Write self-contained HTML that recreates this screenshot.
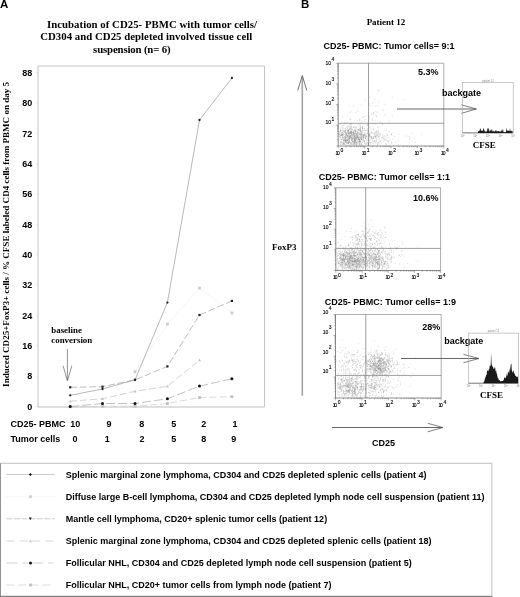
<!DOCTYPE html><html><head><meta charset="utf-8"><title>Figure</title><style>
html,body{margin:0;padding:0;background:#fff}
svg{display:block;will-change:transform}
.sb{font-family:"Liberation Serif","DejaVu Serif",serif;font-weight:bold}
.ab{font-family:"Liberation Sans","DejaVu Sans",sans-serif;font-weight:bold}
.an{font-family:"Liberation Sans","DejaVu Sans",sans-serif}
</style></head><body>
<svg width="520" height="597" viewBox="0 0 520 597">
<rect width="520" height="597" fill="#fff"/>
<text class="ab" x="0" y="8.4" font-size="11.5" fill="#000">A</text>
<g class="sb" font-size="10.8" fill="#000">
<text x="47" y="28" textLength="210" lengthAdjust="spacing">Incubation of CD25- PBMC with tumor cells/</text>
<text x="40.2" y="40.3" textLength="212" lengthAdjust="spacing">CD304 and CD25 depleted involved tissue cell</text>
<text x="93.1" y="52.5" textLength="77.5" lengthAdjust="spacing">suspension (n= 6)</text>
</g>
<path d="M38 407V66H264.5V407" fill="none" stroke="#c6c6c6" stroke-width="1"/>
<path d="M37.5 407H264.5" fill="none" stroke="#c0c0c0" stroke-width="1.2"/>
<g class="ab" font-size="9" fill="#000" text-anchor="end">
<text x="32.3" y="409.7">0</text>
<text x="32.3" y="379.3">8</text>
<text x="32.3" y="349.0">16</text>
<text x="32.3" y="318.6">24</text>
<text x="32.3" y="288.3">32</text>
<text x="32.3" y="257.9">40</text>
<text x="32.3" y="227.5">48</text>
<text x="32.3" y="197.2">56</text>
<text x="32.3" y="166.8">64</text>
<text x="32.3" y="136.5">72</text>
<text x="32.3" y="106.1">80</text>
<text x="32.3" y="75.7">88</text>
</g>
<path d="M38 406.5h-1.5M38 376.1h-1.5M38 345.8h-1.5M38 315.4h-1.5M38 285.1h-1.5M38 254.7h-1.5M38 224.3h-1.5M38 194.0h-1.5M38 163.6h-1.5M38 133.3h-1.5M38 102.9h-1.5M38 72.5h-1.5" stroke="#d4d4d4" stroke-width="0.8" fill="none"/>
<text class="sb" font-size="9.05" fill="#000" text-anchor="middle" textLength="305" lengthAdjust="spacing" transform="translate(8.7 234.4) rotate(-90)">Induced CD25+FoxP3+ cells /  % CFSE labeled CD4 cells from PBMC on day 5</text>
<g class="ab" font-size="9" fill="#000">
<text x="10.5" y="427.3">CD25- PBMC</text>
<text x="10.5" y="441.9">Tumor cells</text>
<g text-anchor="middle">
<text x="75.2" y="427.3">10</text>
<text x="109" y="427.3">9</text>
<text x="141.8" y="427.3">8</text>
<text x="173.7" y="427.3">5</text>
<text x="203.7" y="427.3">2</text>
<text x="235" y="427.3">1</text>
<text x="75" y="441.9">0</text>
<text x="107.2" y="441.9">1</text>
<text x="142" y="441.9">2</text>
<text x="173.7" y="441.9">5</text>
<text x="203.7" y="441.9">8</text>
<text x="233.8" y="441.9">9</text>
</g></g>
<g class="sb" font-size="8.9" fill="#000"><text x="51.3" y="332.8">baseline</text><text x="51.3" y="342.9">conversion</text></g>
<path d="M67.4 349V380.5M63.1 365.8L67.4 380.8L71.8 365.8" fill="none" stroke="#666" stroke-width="0.7"/>
<path d="M135 371.7L167.4 324.1L199.5 288.1L231.9 313" fill="none" stroke="#e2e2e2" stroke-width="0.8" stroke-dasharray="1 1.6"/>
<rect x="133.6" y="370.3" width="2.8" height="2.8" fill="#cdcdcd"/>
<rect x="166.0" y="322.70000000000005" width="2.8" height="2.8" fill="#cdcdcd"/>
<rect x="198.1" y="286.70000000000005" width="2.8" height="2.8" fill="#cdcdcd"/>
<rect x="230.5" y="311.6" width="2.8" height="2.8" fill="#cdcdcd"/>
<path d="M70.2 401.2L102.5 398.7L135 391.3L167.4 386.3L199.5 360.1" fill="none" stroke="#c8c8c8" stroke-width="0.8" stroke-dasharray="7 3"/>
<path d="M68.7 402.4H71.7L70.2 399.7Z" fill="#c6c6c6"/>
<path d="M101.0 399.9H104.0L102.5 397.2Z" fill="#c6c6c6"/>
<path d="M133.5 392.5H136.5L135 389.8Z" fill="#c6c6c6"/>
<path d="M165.9 387.5H168.9L167.4 384.8Z" fill="#c6c6c6"/>
<path d="M198.0 361.3H201.0L199.5 358.6Z" fill="#c6c6c6"/>
<path d="M70.2 406.8L102.5 406.2L135 406.3L167.4 403.5L199.5 397.5L231.9 396.7" fill="none" stroke="#cfcfcf" stroke-width="0.8" stroke-dasharray="7 3"/>
<rect x="68.8" y="405.40000000000003" width="2.8" height="2.8" fill="#c0c0c0"/>
<rect x="101.1" y="404.8" width="2.8" height="2.8" fill="#c0c0c0"/>
<rect x="133.6" y="404.90000000000003" width="2.8" height="2.8" fill="#c0c0c0"/>
<rect x="166.0" y="402.1" width="2.8" height="2.8" fill="#c0c0c0"/>
<rect x="198.1" y="396.1" width="2.8" height="2.8" fill="#c0c0c0"/>
<rect x="230.5" y="395.3" width="2.8" height="2.8" fill="#c0c0c0"/>
<path d="M70.2 387.3L102.5 386.7L135 379.8L167.4 366.4L199.5 315L231.9 300.9" fill="none" stroke="#a2a2a2" stroke-width="0.7" stroke-dasharray="7 2.5"/>
<rect x="69.10000000000001" y="386.2" width="2.2" height="2.2" fill="#222"/>
<rect x="101.4" y="385.59999999999997" width="2.2" height="2.2" fill="#222"/>
<rect x="133.9" y="378.7" width="2.2" height="2.2" fill="#222"/>
<rect x="166.3" y="365.29999999999995" width="2.2" height="2.2" fill="#222"/>
<rect x="198.4" y="313.9" width="2.2" height="2.2" fill="#222"/>
<rect x="230.8" y="299.79999999999995" width="2.2" height="2.2" fill="#222"/>
<path d="M70.2 406.6L102.5 403.5L135 403.5L167.4 398.8L199.5 386.1L231.9 378.8" fill="none" stroke="#a8a8a8" stroke-width="0.7" stroke-dasharray="9 3"/>
<circle cx="70.2" cy="406.6" r="1.5" fill="#111"/>
<circle cx="102.5" cy="403.5" r="1.5" fill="#111"/>
<circle cx="135" cy="403.5" r="1.5" fill="#111"/>
<circle cx="167.4" cy="398.8" r="1.5" fill="#111"/>
<circle cx="199.5" cy="386.1" r="1.5" fill="#111"/>
<circle cx="231.9" cy="378.8" r="1.5" fill="#111"/>
<path d="M70.2 395.3L102.5 389L135 379.8L167.4 302.6L199.5 120L231.9 78" fill="none" stroke="#8a8a8a" stroke-width="0.6"/>
<circle cx="70.2" cy="395.3" r="1.15" fill="#222"/>
<circle cx="102.5" cy="389" r="1.15" fill="#222"/>
<circle cx="135" cy="379.8" r="1.15" fill="#222"/>
<circle cx="167.4" cy="302.6" r="1.15" fill="#222"/>
<circle cx="199.5" cy="120" r="1.15" fill="#222"/>
<circle cx="231.9" cy="78" r="1.15" fill="#222"/>
<text class="ab" x="300.9" y="8.4" font-size="11.5" fill="#000">B</text>
<text class="sb" x="386" y="24.6" font-size="9" fill="#000" text-anchor="middle">Patient 12</text>
<text class="sb" x="284.2" y="249.6" font-size="9" fill="#000" text-anchor="middle">FoxP3</text>
<path d="M302.3 395.7V77" fill="none" stroke="#a4a4a4" stroke-width="1.6"/>
<path d="M297.7 90.5L302.3 75.5L306.8 90.5" fill="none" stroke="#555" stroke-width="0.8"/>
<path d="M332 427.5H442.5" fill="none" stroke="#606060" stroke-width="0.95"/><path d="M427.7 423.3L443 427.5L427.7 431.8" fill="none" stroke="#555" stroke-width="0.75"/>
<text class="ab" x="383.5" y="445.5" font-size="9" fill="#000" text-anchor="middle">CD25</text>
<path d="M340.4 139.2h.75M361.5 134.0h.75M339.4 136.6h.75M356.5 143.4h.75M340.4 129.5h.75M358.7 139.7h.75M366.6 142.7h.75M351.0 135.4h.75M376.4 135.3h.75M344.5 130.4h.75M352.9 137.8h.75M348.7 136.6h.75M354.6 141.0h.75M362.4 138.2h.75M344.6 138.2h.75M383.4 136.7h.75M360.0 129.3h.75M349.3 140.8h.75M351.1 139.1h.75M353.0 131.2h.75M357.4 132.3h.75M369.8 134.1h.75M358.5 137.0h.75M361.0 133.5h.75M361.5 136.3h.75M364.0 140.6h.75M353.3 132.5h.75M359.3 139.7h.75M367.6 134.8h.75M357.3 139.9h.75M354.7 138.2h.75M353.7 133.5h.75M342.4 134.7h.75M361.3 143.1h.75M359.4 141.1h.75M353.7 141.5h.75M368.8 135.1h.75M354.3 142.6h.75M360.3 130.4h.75M353.7 141.4h.75M353.2 131.9h.75M350.9 139.2h.75M362.6 141.1h.75M352.6 144.9h.75M344.8 141.6h.75M362.6 135.3h.75M354.3 140.1h.75M366.7 131.2h.75M352.0 140.8h.75M350.5 123.3h.75M361.5 131.7h.75M348.1 138.3h.75M375.6 140.6h.75M345.5 134.2h.75M358.8 145.3h.75M358.2 138.7h.75M346.2 133.9h.75M357.6 135.1h.75M359.5 137.5h.75M348.8 137.7h.75M356.1 142.0h.75M347.5 135.7h.75M365.8 136.0h.75M347.5 129.8h.75M353.6 138.2h.75M372.7 138.4h.75M344.6 122.8h.75M365.4 138.1h.75M362.6 140.3h.75M350.3 124.6h.75M350.8 128.0h.75M357.7 124.6h.75M343.4 144.1h.75M367.6 130.1h.75M360.1 131.3h.75M345.4 133.0h.75M340.7 133.1h.75M363.9 141.0h.75M371.5 136.5h.75M350.7 131.3h.75M350.8 129.4h.75M365.7 141.9h.75M364.7 138.5h.75M345.2 137.5h.75M348.4 130.6h.75M351.9 137.9h.75M347.5 145.3h.75M353.7 140.4h.75M363.6 132.2h.75M345.5 144.6h.75M355.2 142.8h.75M359.3 124.9h.75M358.8 133.1h.75M344.8 134.5h.75M359.3 142.1h.75M361.6 127.4h.75M346.4 123.2h.75M351.0 140.5h.75M344.7 138.4h.75M354.2 142.8h.75M344.2 132.2h.75M362.4 136.3h.75M354.1 137.7h.75M353.9 135.8h.75M348.8 129.7h.75M357.1 137.4h.75M350.0 137.4h.75M355.4 133.3h.75M353.9 138.4h.75M344.9 132.4h.75M342.5 130.8h.75M360.5 123.3h.75M349.5 133.5h.75M346.1 137.6h.75M362.7 137.4h.75M350.7 133.4h.75M350.8 142.3h.75M348.3 130.4h.75M340.0 130.6h.75M355.4 135.6h.75M365.9 133.2h.75M359.2 141.6h.75M343.2 142.3h.75M364.3 129.9h.75M362.0 134.8h.75M348.3 133.8h.75M348.9 126.5h.75M342.5 129.8h.75M378.0 135.0h.75M357.4 132.8h.75M360.9 140.1h.75M349.7 137.1h.75M353.3 135.0h.75M353.8 133.6h.75M355.4 139.5h.75M359.8 129.5h.75M362.4 134.7h.75M355.8 136.2h.75M354.1 144.0h.75M344.6 131.6h.75M358.8 130.8h.75M348.5 142.3h.75M363.5 126.7h.75M363.4 135.6h.75M346.3 135.3h.75M341.0 135.5h.75M350.2 136.2h.75M363.2 135.7h.75M341.8 134.4h.75M350.7 135.0h.75M342.5 135.6h.75M372.7 133.5h.75M350.7 143.5h.75M359.1 141.4h.75M360.2 125.6h.75M343.8 137.7h.75M356.7 144.5h.75M356.5 135.6h.75M352.4 135.8h.75M354.3 140.9h.75M348.8 132.3h.75M343.9 143.4h.75M364.2 142.8h.75M360.1 141.8h.75M352.0 140.8h.75M342.0 135.8h.75M345.0 141.2h.75M346.5 136.4h.75M355.8 144.9h.75M344.5 131.6h.75M359.8 130.6h.75M356.3 133.7h.75M351.0 126.4h.75M358.8 134.1h.75M355.9 135.0h.75M351.7 139.6h.75M356.9 131.7h.75M353.2 134.1h.75M340.2 142.1h.75M358.3 137.4h.75M343.4 125.4h.75M356.6 136.4h.75M353.4 139.1h.75M354.1 138.0h.75M341.2 134.8h.75M347.1 135.6h.75M354.6 140.6h.75M367.5 122.1h.75M355.8 135.8h.75M373.6 142.4h.75M347.1 142.8h.75M342.0 136.4h.75M350.8 136.4h.75M346.5 126.3h.75M356.4 142.8h.75M351.4 131.1h.75M353.9 140.3h.75M350.3 136.9h.75M365.4 130.5h.75M346.7 125.9h.75M345.4 132.7h.75M342.9 133.0h.75M369.1 135.9h.75M351.4 126.9h.75M355.8 131.6h.75M367.6 129.8h.75M346.5 127.7h.75M352.9 131.1h.75M351.4 134.8h.75M346.2 142.5h.75M360.9 137.4h.75M343.4 130.8h.75M347.7 132.4h.75M345.4 130.6h.75M342.8 135.8h.75M365.6 137.0h.75M347.1 127.6h.75M354.0 136.8h.75M340.3 130.7h.75M351.6 142.9h.75M358.0 138.2h.75M348.9 138.9h.75M341.2 134.9h.75M364.0 135.5h.75M365.5 136.7h.75M353.4 134.9h.75M338.9 131.4h.75M373.0 140.7h.75M357.8 142.5h.75M357.4 142.9h.75M349.5 135.7h.75M361.3 135.0h.75M339.4 135.7h.75M346.8 140.6h.75M345.2 130.8h.75M351.5 137.9h.75M352.1 138.7h.75M360.8 145.1h.75M352.0 135.1h.75M374.8 136.0h.75M370.5 142.6h.75M342.2 139.8h.75M359.0 136.3h.75M350.2 130.6h.75M369.3 135.6h.75M348.3 135.3h.75M344.6 132.5h.75M352.9 138.8h.75M347.2 136.5h.75M344.9 138.2h.75M343.4 134.0h.75M354.0 130.0h.75M375.5 136.8h.75M351.3 132.7h.75M367.2 145.0h.75M354.8 129.1h.75M347.2 140.6h.75M347.1 130.1h.75M340.7 132.5h.75M352.1 133.2h.75M368.8 131.0h.75M355.3 137.5h.75M350.7 143.1h.75M348.8 135.1h.75M348.4 136.4h.75M364.2 141.5h.75M339.3 134.4h.75M344.4 141.7h.75M354.1 142.2h.75M351.4 125.9h.75M356.3 138.3h.75M356.8 129.4h.75M352.8 133.0h.75M345.5 139.1h.75M355.3 131.8h.75M346.5 143.5h.75M351.5 123.9h.75M343.8 139.4h.75M367.9 143.8h.75M355.5 138.1h.75M341.9 134.4h.75M348.8 132.5h.75M352.6 134.7h.75M355.2 145.3h.75M359.0 139.4h.75M349.7 128.2h.75M350.9 140.2h.75M342.4 144.3h.75M348.8 139.2h.75M348.9 129.7h.75M371.6 130.3h.75M360.7 133.8h.75M354.7 132.3h.75M348.0 142.3h.75M370.5 132.1h.75M352.1 142.5h.75M346.0 141.1h.75M344.5 140.5h.75M356.1 144.0h.75M355.5 130.1h.75M358.3 130.6h.75M357.7 133.8h.75M363.3 138.0h.75M340.2 134.9h.75M365.5 135.2h.75M353.2 135.0h.75M355.4 138.2h.75M350.3 124.6h.75M363.6 141.2h.75M361.7 144.5h.75M347.8 133.5h.75M345.2 140.2h.75M365.9 135.3h.75M340.2 137.3h.75M349.3 128.0h.75M360.4 134.0h.75M358.5 129.4h.75M362.4 128.6h.75M362.0 126.5h.75M365.1 134.8h.75M355.2 131.3h.75M347.3 138.6h.75M350.4 119.2h.75M347.9 139.5h.75M354.8 142.9h.75M359.6 138.8h.75M362.3 142.5h.75M353.0 133.4h.75M361.7 139.5h.75M356.4 137.6h.75M354.7 140.7h.75M346.4 134.7h.75M355.1 141.3h.75M347.5 143.8h.75M356.4 131.0h.75M359.5 134.3h.75M345.3 137.4h.75M373.9 141.3h.75M355.0 131.6h.75M340.7 135.8h.75M348.2 133.4h.75M362.7 137.4h.75M340.3 144.5h.75M349.0 129.3h.75M355.1 139.8h.75M348.8 141.0h.75M359.8 131.9h.75M350.8 144.1h.75M361.5 145.1h.75M369.6 137.1h.75M362.0 128.1h.75M358.5 139.3h.75M351.1 134.4h.75M341.4 137.8h.75M364.1 134.9h.75M357.0 133.1h.75M354.4 131.2h.75M355.6 135.7h.75M355.0 133.5h.75M340.8 135.1h.75M348.9 141.6h.75M359.2 139.3h.75M342.8 143.8h.75M359.5 140.6h.75M358.6 129.6h.75M361.2 137.4h.75M350.3 132.9h.75M342.3 134.5h.75M381.3 138.2h.75M354.0 133.2h.75M346.1 133.8h.75M343.6 142.1h.75M349.4 142.0h.75M341.0 142.4h.75M351.7 140.9h.75M351.0 131.9h.75M363.5 134.5h.75M350.6 131.9h.75M353.9 134.7h.75M354.7 139.0h.75M345.5 128.8h.75M356.1 142.3h.75M358.6 130.4h.75M357.7 139.2h.75M354.7 139.5h.75M348.9 138.2h.75M360.8 134.1h.75M353.9 126.3h.75M345.6 140.4h.75M350.6 137.5h.75M340.0 142.3h.75M368.7 135.8h.75M345.0 130.3h.75M360.5 137.6h.75M344.5 144.0h.75M359.3 140.5h.75M357.9 129.9h.75M360.8 145.3h.75M361.8 132.8h.75M345.3 142.5h.75M361.4 144.1h.75M363.4 136.4h.75M348.1 126.2h.75M347.6 134.2h.75M358.2 139.2h.75M339.0 132.9h.75M345.2 142.0h.75M340.3 135.0h.75M345.1 135.3h.75M376.9 127.3h.75M357.3 129.8h.75M364.7 144.5h.75M352.7 144.6h.75M355.0 133.8h.75M348.4 136.3h.75M357.9 137.7h.75M374.4 135.9h.75M347.6 132.8h.75M344.6 128.6h.75M342.6 142.3h.75M352.6 136.0h.75M355.3 143.2h.75M357.8 141.5h.75M346.7 135.5h.75M344.6 136.4h.75M344.2 134.8h.75M350.3 135.7h.75M349.5 134.1h.75M364.4 135.0h.75M342.4 138.1h.75M341.7 130.8h.75M352.8 127.3h.75M361.8 127.3h.75M343.5 140.3h.75M340.6 135.9h.75M350.6 138.8h.75M348.9 124.7h.75M350.6 129.2h.75M352.1 132.1h.75M349.0 135.8h.75M359.3 141.4h.75M342.5 136.9h.75M365.9 139.9h.75M345.1 136.3h.75M348.7 142.5h.75M352.3 139.2h.75M373.0 129.0h.75M342.4 127.0h.75M365.7 143.0h.75M360.4 142.1h.75M352.3 136.9h.75M352.3 141.9h.75M350.5 138.9h.75M365.8 130.5h.75M344.9 140.3h.75M349.5 136.1h.75M371.9 139.4h.75M348.0 143.4h.75M375.9 130.6h.75M345.6 137.7h.75M357.0 134.7h.75M356.7 132.4h.75M346.3 137.6h.75M374.7 123.9h.75M356.0 144.8h.75M356.3 137.8h.75M350.8 132.0h.75M367.5 130.1h.75M350.8 134.0h.75M344.5 124.1h.75M348.4 137.8h.75M353.4 141.9h.75M350.5 133.3h.75M354.9 140.9h.75M343.4 128.2h.75M342.3 143.1h.75M361.5 131.9h.75M353.1 141.9h.75M364.6 133.2h.75M349.7 145.2h.75M341.2 139.6h.75M349.2 136.7h.75M345.7 134.2h.75M358.6 139.5h.75M352.3 132.6h.75M349.8 144.2h.75M354.5 136.9h.75M346.0 137.0h.75M339.2 134.1h.75M343.2 143.6h.75M354.4 130.2h.75M347.4 130.6h.75M357.6 135.9h.75M353.1 133.6h.75M346.6 134.3h.75M355.8 127.0h.75M353.0 143.7h.75M354.2 144.5h.75M349.5 137.0h.75M339.7 131.7h.75M354.3 140.0h.75M363.1 137.8h.75M342.6 139.5h.75M370.6 142.6h.75M341.2 134.0h.75M353.8 132.9h.75M357.0 141.0h.75M360.0 138.3h.75M343.6 132.1h.75M350.8 144.7h.75M367.0 142.7h.75M355.4 140.9h.75M359.8 144.5h.75M360.1 128.1h.75M361.1 139.2h.75M347.6 140.0h.75M354.7 136.7h.75M357.3 136.7h.75M358.8 138.0h.75M356.0 135.0h.75M345.7 140.0h.75M348.6 138.1h.75M382.9 141.1h.75M353.3 127.6h.75M352.9 141.4h.75M345.3 135.6h.75M346.3 141.0h.75M365.0 136.1h.75M361.4 138.5h.75M350.1 135.4h.75M343.9 144.4h.75M360.4 131.2h.75M360.0 132.8h.75M339.8 143.9h.75M353.9 142.2h.75M356.9 143.7h.75M355.3 140.4h.75M354.4 143.4h.75M348.3 142.9h.75M366.3 136.6h.75M356.2 134.0h.75M349.3 138.5h.75M348.8 131.9h.75M351.7 138.1h.75M355.1 141.1h.75M350.4 132.5h.75M348.5 139.6h.75M360.3 134.9h.75M353.5 127.7h.75M353.6 136.4h.75M347.9 142.1h.75M369.0 143.0h.75M348.8 136.8h.75M346.5 139.6h.75M357.3 137.8h.75M350.0 136.2h.75M348.2 142.6h.75M347.1 136.1h.75M350.0 132.7h.75M349.8 128.5h.75M355.9 140.1h.75M344.2 140.2h.75M356.5 133.9h.75M349.7 142.1h.75M352.6 138.6h.75M365.2 138.3h.75M359.9 136.3h.75M341.8 125.6h.75M340.2 124.5h.75M356.7 133.9h.75M349.2 135.1h.75M343.5 139.5h.75M360.7 139.1h.75M346.7 143.0h.75M351.0 140.3h.75M343.2 140.8h.75M359.0 144.4h.75M352.3 139.6h.75M346.6 142.1h.75M359.3 143.2h.75M348.4 130.0h.75M351.4 135.8h.75M345.0 140.5h.75M360.9 139.3h.75M362.5 139.3h.75M342.8 133.6h.75M348.7 140.9h.75M360.7 137.8h.75M361.5 132.3h.75M356.2 143.0h.75M343.9 142.8h.75M367.3 133.5h.75M342.8 131.2h.75M343.7 140.2h.75M358.8 133.1h.75M354.2 136.1h.75M359.4 142.2h.75M348.8 142.1h.75M357.4 136.5h.75M354.4 140.9h.75M349.0 133.2h.75M363.9 137.0h.75M346.5 139.7h.75M339.3 134.6h.75M360.4 136.0h.75M347.1 128.7h.75M369.3 134.6h.75M359.1 143.8h.75M339.8 137.4h.75M346.7 140.5h.75M351.9 129.8h.75M352.6 141.4h.75M349.3 140.2h.75M347.1 136.7h.75M355.3 137.8h.75M363.9 142.4h.75M359.9 141.1h.75M353.5 130.4h.75M354.2 135.6h.75M351.7 143.9h.75M354.7 131.5h.75M350.5 132.7h.75M350.2 132.0h.75M361.8 127.9h.75M343.0 134.5h.75M348.5 129.2h.75M360.3 127.9h.75M358.5 141.0h.75M348.7 133.3h.75M352.6 137.9h.75M357.0 136.4h.75M348.2 131.4h.75M345.5 132.7h.75M378.0 129.9h.75M366.3 139.8h.75M354.1 138.2h.75M356.8 136.9h.75M350.9 138.2h.75M341.5 135.2h.75M346.3 140.6h.75M357.7 126.5h.75M350.0 142.7h.75M340.1 130.3h.75M361.4 136.3h.75M347.9 130.2h.75M353.7 133.9h.75M354.1 139.5h.75M358.6 135.2h.75M347.2 137.2h.75M351.2 138.0h.75M347.2 135.7h.75M346.6 133.7h.75M353.5 143.6h.75M347.1 140.4h.75M355.3 137.7h.75M358.4 133.9h.75M357.3 138.7h.75M342.2 137.6h.75M355.3 131.5h.75M363.2 139.6h.75M344.7 130.2h.75M372.1 123.0h.75M351.1 133.4h.75M357.7 137.6h.75M354.7 138.6h.75M341.9 144.5h.75M347.8 143.5h.75M358.5 137.3h.75M353.4 136.8h.75M356.1 127.9h.75M359.6 128.2h.75M356.4 136.8h.75M361.2 135.2h.75M350.0 132.8h.75M353.7 136.3h.75M346.0 135.1h.75M345.0 140.6h.75M342.4 128.2h.75M343.1 143.2h.75M347.3 140.7h.75M358.9 134.1h.75M359.1 139.9h.75M351.7 133.0h.75M351.5 129.7h.75M349.5 133.7h.75M356.2 139.0h.75M346.1 142.0h.75M363.2 137.4h.75M345.1 139.9h.75M353.8 142.8h.75M350.4 133.5h.75M359.9 135.3h.75M355.6 142.0h.75M357.4 136.8h.75M345.9 132.8h.75M347.9 133.9h.75M360.3 130.6h.75M339.7 136.8h.75M365.6 144.3h.75M348.1 131.1h.75M347.0 131.8h.75M346.9 139.8h.75M342.0 132.5h.75M349.6 136.9h.75M344.8 132.5h.75M341.4 132.7h.75M357.0 135.6h.75M351.4 132.0h.75M349.6 119.6h.75M345.1 137.2h.75M359.4 129.9h.75M368.5 132.8h.75M355.4 130.4h.75M355.5 136.9h.75M362.3 130.3h.75M340.7 139.0h.75M356.2 134.1h.75M349.5 145.2h.75M362.8 140.3h.75M354.6 130.4h.75M362.0 129.1h.75M353.6 133.8h.75M349.1 139.0h.75M360.5 138.2h.75M363.9 128.7h.75M356.5 139.5h.75M377.4 144.5h.75M355.6 144.9h.75M362.9 130.5h.75M356.6 145.1h.75M350.5 137.4h.75M347.6 141.3h.75M346.7 133.6h.75M340.3 131.6h.75M354.1 139.8h.75M348.3 130.9h.75M355.2 139.1h.75M364.2 134.1h.75M348.1 140.0h.75M366.6 136.7h.75M351.2 131.5h.75M348.4 142.5h.75M360.1 143.5h.75M343.2 140.5h.75M343.6 144.4h.75M353.2 144.6h.75M347.3 131.3h.75M360.6 134.7h.75M351.5 129.1h.75M348.7 137.7h.75M345.3 139.3h.75M348.7 133.2h.75M347.7 138.6h.75M357.7 134.3h.75M344.4 139.5h.75M359.9 126.8h.75M341.9 133.1h.75M368.4 144.2h.75M359.7 139.9h.75M341.3 143.6h.75M347.8 132.3h.75M370.6 128.5h.75M365.3 138.2h.75M343.2 138.1h.75M343.9 138.1h.75M345.8 130.0h.75M377.6 134.1h.75M361.5 136.7h.75M358.5 129.6h.75M342.0 117.8h.75M361.7 139.6h.75M340.7 141.9h.75M354.3 142.4h.75M357.9 141.5h.75M351.8 134.6h.75M358.9 144.3h.75M340.8 130.3h.75M350.0 127.0h.75M359.8 141.5h.75M370.7 138.1h.75M371.0 132.8h.75M360.7 137.8h.75M340.6 135.4h.75M364.8 143.6h.75M348.4 143.5h.75M360.7 142.3h.75M354.8 138.8h.75M344.1 136.6h.75M353.2 132.7h.75M349.3 138.0h.75M354.1 143.2h.75M342.2 134.7h.75M354.6 134.8h.75M355.2 134.3h.75M363.4 135.7h.75M341.1 141.4h.75M368.1 125.7h.75M350.8 137.4h.75M350.5 127.9h.75M358.5 142.9h.75M356.5 137.5h.75M340.5 128.2h.75M361.4 138.7h.75M358.5 139.1h.75M368.3 145.4h.75M346.8 142.9h.75M340.8 127.0h.75M363.6 134.5h.75M345.7 140.0h.75M351.5 132.5h.75M345.2 141.5h.75M343.1 137.8h.75M369.1 140.3h.75M388.7 140.9h.75M383.9 140.3h.75M369.2 136.5h.75M376.5 140.3h.75M371.8 141.1h.75M371.0 138.4h.75M376.0 132.2h.75M383.1 138.3h.75M376.8 137.9h.75M361.2 131.0h.75M369.7 143.0h.75M372.0 141.1h.75M368.8 133.8h.75M372.7 143.4h.75M364.3 137.1h.75M378.9 138.7h.75M375.9 142.0h.75M378.1 133.0h.75M380.5 134.1h.75M373.6 145.4h.75M393.3 145.4h.75M379.1 134.1h.75M378.4 131.0h.75M387.1 141.0h.75M385.4 140.1h.75M360.8 134.3h.75M375.0 137.2h.75M386.7 134.6h.75M375.4 137.7h.75M375.4 132.8h.75M367.4 125.0h.75M378.4 137.0h.75M377.5 132.7h.75M376.1 133.1h.75M368.9 139.7h.75M380.5 141.0h.75M375.7 136.1h.75M385.9 144.3h.75M371.6 132.6h.75M378.7 139.6h.75M361.3 133.8h.75M377.8 143.0h.75M363.0 135.8h.75M386.2 145.1h.75M374.3 138.2h.75M369.8 140.0h.75M368.6 127.8h.75M365.3 138.3h.75M366.7 143.6h.75M385.1 143.1h.75M380.7 143.7h.75M377.9 142.4h.75M379.3 142.0h.75M368.9 134.7h.75M369.0 142.2h.75M379.6 134.1h.75M369.1 135.1h.75M382.2 137.5h.75M374.3 134.6h.75M371.2 136.3h.75M388.0 141.7h.75M368.0 143.5h.75M367.1 140.8h.75M358.2 133.0h.75M382.5 135.0h.75M370.9 138.3h.75M376.1 135.7h.75M386.6 139.7h.75M367.9 135.4h.75M374.0 140.5h.75M387.3 135.4h.75M377.1 135.9h.75M377.0 134.6h.75M378.7 143.9h.75M373.3 136.4h.75M376.9 131.4h.75M388.8 131.3h.75M373.5 133.6h.75M386.6 135.6h.75M375.2 134.1h.75M376.0 139.0h.75M370.8 137.1h.75M374.6 141.7h.75M381.5 142.2h.75M375.2 142.1h.75M374.6 143.9h.75M378.9 135.9h.75M384.7 130.4h.75M369.2 134.0h.75M375.1 131.8h.75M367.6 128.5h.75M376.9 134.2h.75M391.5 141.9h.75M368.0 144.7h.75M376.8 143.5h.75M368.2 143.9h.75M383.8 135.9h.75M370.1 136.1h.75M374.5 136.4h.75M378.6 136.7h.75M372.8 137.0h.75M382.0 137.7h.75M377.7 136.7h.75M374.7 136.4h.75M384.9 139.2h.75M386.6 137.2h.75M383.5 131.1h.75M373.2 137.7h.75M371.6 137.5h.75M369.5 137.2h.75M371.4 138.0h.75M374.0 133.0h.75M373.2 138.2h.75M367.1 138.5h.75M384.9 136.9h.75M379.9 141.2h.75M370.4 144.7h.75M393.7 132.9h.75M391.2 134.5h.75M386.3 128.9h.75M384.1 138.7h.75M367.0 133.9h.75M353.3 105.9h.75M373.4 112.4h.75M374.7 114.9h.75M391.9 97.4h.75M371.5 114.3h.75M378.3 101.9h.75M349.7 112.5h.75M369.2 97.7h.75M373.3 114.0h.75M378.4 90.4h.75M375.2 106.0h.75M361.4 121.1h.75M391.9 115.4h.75M366.6 125.9h.75M355.5 112.7h.75M361.0 105.2h.75M370.8 132.5h.75M371.6 118.6h.75M367.7 124.3h.75M370.6 106.1h.75M369.5 127.1h.75M366.9 124.9h.75M367.1 132.4h.75M372.1 120.0h.75M364.0 121.6h.75M364.9 100.7h.75M372.4 103.1h.75M388.9 121.2h.75M368.3 120.3h.75M359.0 120.1h.75M404.2 99.4h.75M362.3 117.2h.75M374.0 98.8h.75M355.0 127.5h.75M359.6 119.1h.75M348.8 105.8h.75M342.4 116.5h.75M384.4 114.9h.75M364.2 116.3h.75M374.7 111.4h.75M375.9 131.8h.75M399.4 108.9h.75M350.3 131.4h.75M381.9 125.1h.75M376.6 112.0h.75M381.9 124.2h.75M384.7 104.2h.75M382.6 110.9h.75M363.1 117.3h.75M363.2 135.1h.75M376.1 116.5h.75M365.4 116.3h.75M364.9 119.4h.75M380.3 121.7h.75M350.4 111.1h.75M369.3 103.0h.75M373.5 112.8h.75M368.9 117.5h.75M359.4 128.2h.75M382.7 109.1h.75M374.7 120.8h.75M357.4 110.9h.75M378.0 90.7h.75M349.6 117.1h.75M376.9 105.7h.75M380.2 134.1h.75M371.1 113.7h.75M369.1 104.9h.75M375.9 115.7h.75M378.6 127.0h.75M368.7 115.7h.75M372.7 129.8h.75M347.6 114.1h.75M392.6 138.7h.75M410.2 138.4h.75M409.0 139.0h.75M391.5 134.7h.75M383.5 139.2h.75M395.4 142.3h.75M411.8 133.6h.75M387.0 141.1h.75M389.5 139.1h.75M407.5 136.1h.75M421.6 134.2h.75M405.3 136.0h.75M365.4 137.2h.75M398.2 141.0h.75M398.5 134.4h.75M393.9 136.5h.75M409.3 136.7h.75M415.0 142.4h.75M391.2 143.2h.75M372.9 138.2h.75M388.3 137.6h.75M414.1 138.1h.75M398.1 144.5h.75M391.0 133.9h.75M411.9 141.1h.75" stroke="#8a8a8a" stroke-width="0.75" fill="none" opacity="0.55"/>
<path d="M338.2 63.2H443.8V146" fill="none" stroke="#888" stroke-width="0.7"/>
<path d="M338.2 63.2V146H443.8" fill="none" stroke="#666" stroke-width="0.75"/>
<path d="M368.5 63.2V146M338.2 123.3H443.8" fill="none" stroke="#777" stroke-width="0.7"/>
<path d="M338.2 146v2.4M338.2 146.0h-2M346.1 146v1.2M338.2 139.8h-1.1M350.8 146v1.2M338.2 136.1h-1.1M354.1 146v1.2M338.2 133.5h-1.1M356.7 146v1.2M338.2 131.5h-1.1M358.7 146v1.2M338.2 129.9h-1.1M360.5 146v1.2M338.2 128.5h-1.1M362.0 146v1.2M338.2 127.3h-1.1M363.4 146v1.2M338.2 126.2h-1.1M364.6 146v2.4M338.2 125.3h-2M372.5 146v1.2M338.2 119.1h-1.1M377.2 146v1.2M338.2 115.4h-1.1M380.5 146v1.2M338.2 112.8h-1.1M383.1 146v1.2M338.2 110.8h-1.1M385.1 146v1.2M338.2 109.2h-1.1M386.9 146v1.2M338.2 107.8h-1.1M388.4 146v1.2M338.2 106.6h-1.1M389.8 146v1.2M338.2 105.5h-1.1M391.0 146v2.4M338.2 104.6h-2M398.9 146v1.2M338.2 98.4h-1.1M403.6 146v1.2M338.2 94.7h-1.1M406.9 146v1.2M338.2 92.1h-1.1M409.5 146v1.2M338.2 90.1h-1.1M411.5 146v1.2M338.2 88.5h-1.1M413.3 146v1.2M338.2 87.1h-1.1M414.8 146v1.2M338.2 85.9h-1.1M416.2 146v1.2M338.2 84.8h-1.1M417.4 146v2.4M338.2 83.9h-2M425.3 146v1.2M338.2 77.7h-1.1M430.0 146v1.2M338.2 74.0h-1.1M433.3 146v1.2M338.2 71.4h-1.1M435.9 146v1.2M338.2 69.4h-1.1M437.9 146v1.2M338.2 67.8h-1.1M439.7 146v1.2M338.2 66.4h-1.1M441.2 146v1.2M338.2 65.2h-1.1M442.6 146v1.2M338.2 64.1h-1.1M443.8 146v2.4M338.2 63.2h-2" stroke="#555" stroke-width="0.45" fill="none"/>
<g class="an" font-size="5" fill="#000" stroke="#000" stroke-width="0.12">
<text x="335.4" y="154.6"><tspan letter-spacing="-1.1">10</tspan><tspan dx="1.6" dy="-2.3">0</tspan></text>
<text x="361.8" y="154.6"><tspan letter-spacing="-1.1">10</tspan><tspan dx="1.6" dy="-2.3">1</tspan></text>
<text x="388.2" y="154.6"><tspan letter-spacing="-1.1">10</tspan><tspan dx="1.6" dy="-2.3">2</tspan></text>
<text x="414.6" y="154.6"><tspan letter-spacing="-1.1">10</tspan><tspan dx="1.6" dy="-2.3">3</tspan></text>
<text x="441.0" y="154.6"><tspan letter-spacing="-1.1">10</tspan><tspan dx="1.6" dy="-2.3">4</tspan></text>
<text x="325.4" y="124.3"><tspan>10</tspan><tspan dx="0.5" dy="-3.6">1</tspan></text>
<text x="325.4" y="104.5"><tspan>10</tspan><tspan dx="0.5" dy="-3.6">2</tspan></text>
<text x="325.4" y="84.8"><tspan>10</tspan><tspan dx="0.5" dy="-3.6">3</tspan></text>
<text x="325.4" y="65.0"><tspan>10</tspan><tspan dx="0.5" dy="-3.6">4</tspan></text>
</g>
<text class="ab" x="323.5" y="49.3" font-size="9" fill="#000">CD25- PBMC: Tumor cells= 9:1</text>
<text class="ab" x="438.5" y="75.3" font-size="9" fill="#000" text-anchor="end">5.3%</text>
<path d="M337.8 261.0h.75M360.0 259.1h.75M348.1 260.9h.75M354.3 255.8h.75M360.5 250.6h.75M341.5 259.8h.75M340.5 260.4h.75M342.8 259.9h.75M354.3 263.9h.75M361.1 250.7h.75M374.1 258.2h.75M344.9 250.2h.75M347.7 249.4h.75M354.0 256.5h.75M355.4 255.3h.75M363.9 261.0h.75M342.2 268.9h.75M365.1 256.5h.75M365.6 263.5h.75M358.0 256.3h.75M358.0 268.5h.75M353.5 242.6h.75M348.3 257.8h.75M351.5 257.9h.75M363.5 252.4h.75M356.5 248.1h.75M344.5 254.6h.75M345.0 263.7h.75M357.9 260.5h.75M354.0 255.9h.75M342.2 251.5h.75M347.9 253.2h.75M348.8 264.4h.75M357.5 268.0h.75M342.7 246.8h.75M359.0 257.4h.75M365.3 257.5h.75M368.8 257.6h.75M348.0 264.2h.75M340.5 259.0h.75M371.4 262.6h.75M341.0 258.5h.75M351.7 255.5h.75M356.1 267.5h.75M352.5 265.3h.75M355.0 260.8h.75M344.5 265.8h.75M365.6 257.3h.75M343.2 263.1h.75M353.0 266.8h.75M356.9 259.2h.75M338.1 263.7h.75M353.0 252.4h.75M337.1 249.0h.75M358.2 257.4h.75M345.6 259.3h.75M352.3 258.0h.75M359.4 266.2h.75M349.7 269.5h.75M350.7 254.8h.75M353.5 251.4h.75M349.0 253.6h.75M347.7 261.2h.75M354.6 258.7h.75M359.1 262.1h.75M348.3 254.0h.75M359.3 264.5h.75M337.2 255.6h.75M340.1 265.0h.75M346.2 252.5h.75M367.1 262.7h.75M354.3 261.5h.75M350.2 260.2h.75M360.9 262.6h.75M347.4 260.6h.75M370.7 256.6h.75M338.7 260.7h.75M358.2 263.5h.75M341.7 259.7h.75M349.2 253.7h.75M344.9 264.8h.75M343.7 261.5h.75M344.7 255.7h.75M346.3 269.7h.75M341.1 261.9h.75M360.0 255.5h.75M336.8 269.0h.75M369.4 258.4h.75M339.9 265.2h.75M351.5 255.0h.75M348.0 245.5h.75M343.7 252.6h.75M338.6 263.5h.75M343.4 267.9h.75M362.3 260.7h.75M352.8 255.4h.75M346.7 257.2h.75M364.3 262.9h.75M360.3 249.7h.75M341.6 265.1h.75M348.0 250.1h.75M351.7 252.1h.75M351.8 269.4h.75M340.4 257.2h.75M357.4 259.7h.75M353.7 254.8h.75M348.4 245.5h.75M350.0 267.7h.75M340.5 258.8h.75M359.0 267.3h.75M363.6 254.5h.75M347.1 261.6h.75M343.3 255.9h.75M341.9 268.1h.75M359.5 262.3h.75M346.5 251.4h.75M356.6 254.8h.75M350.6 265.6h.75M349.8 259.7h.75M341.7 266.2h.75M357.1 264.2h.75M368.2 250.0h.75M352.0 263.8h.75M355.1 261.7h.75M356.5 250.5h.75M351.0 266.9h.75M351.2 258.7h.75M360.3 249.2h.75M355.8 269.1h.75M349.2 254.8h.75M357.1 257.1h.75M343.4 260.8h.75M339.6 256.5h.75M359.1 259.7h.75M354.4 268.2h.75M346.2 265.4h.75M365.0 255.4h.75M356.4 264.9h.75M350.1 256.0h.75M367.0 251.8h.75M353.4 265.6h.75M354.1 269.5h.75M366.8 262.7h.75M369.7 264.4h.75M339.3 257.9h.75M354.5 261.0h.75M356.3 261.1h.75M367.3 261.2h.75M355.6 264.3h.75M344.3 252.0h.75M347.1 266.1h.75M348.9 267.5h.75M346.2 264.5h.75M352.1 265.0h.75M351.9 261.1h.75M347.0 267.5h.75M351.4 262.9h.75M358.4 254.4h.75M343.4 259.6h.75M364.7 253.5h.75M341.5 253.9h.75M347.8 253.4h.75M343.5 263.1h.75M340.8 259.8h.75M339.9 258.7h.75M357.1 247.7h.75M352.3 261.3h.75M351.2 261.4h.75M356.0 252.0h.75M350.6 263.8h.75M364.9 251.6h.75M345.8 251.6h.75M351.6 253.4h.75M341.9 264.6h.75M374.5 247.4h.75M368.5 254.3h.75M358.7 262.0h.75M364.3 258.6h.75M343.4 259.5h.75M359.8 254.5h.75M356.0 259.9h.75M353.6 260.0h.75M357.9 264.8h.75M348.9 257.8h.75M336.4 264.0h.75M340.9 255.7h.75M357.2 265.9h.75M364.1 254.7h.75M354.3 266.4h.75M343.3 258.5h.75M339.5 256.0h.75M359.0 260.5h.75M348.2 256.5h.75M367.2 264.5h.75M347.7 259.0h.75M346.9 256.5h.75M358.3 251.1h.75M352.2 257.9h.75M369.5 262.3h.75M356.3 263.1h.75M357.9 260.7h.75M348.6 264.2h.75M355.0 256.6h.75M342.9 253.8h.75M354.7 259.3h.75M342.9 257.7h.75M355.4 255.9h.75M350.6 256.3h.75M352.5 264.8h.75M365.0 255.5h.75M357.9 261.6h.75M352.7 264.9h.75M360.7 252.3h.75M366.8 258.9h.75M345.2 255.8h.75M349.6 253.1h.75M362.9 262.5h.75M342.8 264.9h.75M354.3 260.4h.75M361.6 259.4h.75M349.3 263.0h.75M357.0 266.4h.75M345.2 258.2h.75M357.9 269.0h.75M369.6 265.7h.75M358.3 260.8h.75M339.9 253.2h.75M353.1 250.4h.75M369.7 263.6h.75M355.6 262.9h.75M354.3 260.3h.75M359.0 255.9h.75M354.6 261.0h.75M359.7 253.3h.75M354.4 259.2h.75M358.2 263.2h.75M353.8 262.7h.75M356.4 268.2h.75M355.0 263.2h.75M342.5 258.7h.75M359.6 266.3h.75M342.1 259.7h.75M349.2 260.3h.75M347.1 257.4h.75M351.3 260.7h.75M362.1 254.8h.75M342.3 264.7h.75M356.9 258.8h.75M340.3 266.3h.75M341.1 266.8h.75M354.4 259.1h.75M350.2 264.9h.75M352.0 249.5h.75M344.9 247.0h.75M355.9 265.5h.75M362.3 251.8h.75M350.8 248.0h.75M343.2 266.2h.75M372.7 256.7h.75M371.1 259.9h.75M337.8 247.3h.75M358.3 264.8h.75M347.1 258.8h.75M352.7 257.9h.75M346.4 256.5h.75M346.0 267.4h.75M355.9 266.1h.75M370.4 246.2h.75M351.2 265.7h.75M349.8 256.3h.75M355.9 256.8h.75M343.5 258.1h.75M352.5 260.0h.75M360.9 260.1h.75M349.6 258.3h.75M350.5 255.7h.75M366.5 249.0h.75M344.3 262.5h.75M345.1 263.1h.75M351.4 253.3h.75M349.7 256.8h.75M357.3 244.7h.75M356.0 267.9h.75M353.4 261.4h.75M346.5 262.0h.75M350.4 252.2h.75M340.0 246.0h.75M356.2 261.0h.75M362.8 261.5h.75M358.8 251.9h.75M348.6 262.1h.75M350.6 258.9h.75M352.3 261.5h.75M353.9 261.9h.75M346.9 259.4h.75M337.2 253.2h.75M349.2 262.5h.75M344.3 251.5h.75M361.5 254.9h.75M340.0 245.4h.75M344.5 255.0h.75M363.4 260.5h.75M350.9 268.1h.75M340.1 259.6h.75M357.0 261.2h.75M340.2 254.3h.75M369.7 259.4h.75M349.3 266.4h.75M342.0 260.6h.75M342.7 260.7h.75M355.1 260.0h.75M348.7 261.4h.75M349.5 256.9h.75M358.2 265.1h.75M338.4 253.9h.75M344.1 261.7h.75M337.9 269.3h.75M352.3 260.9h.75M360.7 255.5h.75M355.6 262.4h.75M364.8 253.7h.75M365.8 263.5h.75M354.4 266.4h.75M349.4 258.8h.75M360.3 257.9h.75M362.8 268.2h.75M354.1 261.0h.75M345.5 254.5h.75M366.3 253.8h.75M352.8 261.8h.75M343.0 255.9h.75M355.7 268.3h.75M372.3 266.1h.75M365.2 257.4h.75M345.1 268.7h.75M366.6 253.9h.75M363.5 261.8h.75M360.0 265.8h.75M371.0 256.3h.75M352.1 267.6h.75M349.5 263.3h.75M351.3 249.9h.75M346.6 265.4h.75M346.7 250.9h.75M347.1 260.7h.75M357.0 262.1h.75M357.4 253.8h.75M346.1 255.5h.75M347.8 262.7h.75M365.5 258.7h.75M362.8 266.8h.75M340.7 255.2h.75M353.7 251.8h.75M370.9 248.9h.75M340.0 264.8h.75M344.8 264.4h.75M342.4 266.5h.75M346.4 264.5h.75M362.2 251.2h.75M343.4 249.7h.75M341.2 265.6h.75M351.9 265.2h.75M366.4 266.3h.75M359.5 257.6h.75M348.4 262.1h.75M360.9 266.7h.75M355.3 258.4h.75M345.2 265.4h.75M354.5 264.7h.75M344.8 262.2h.75M351.7 258.5h.75M340.4 251.7h.75M349.0 263.5h.75M354.9 261.6h.75M355.6 252.1h.75M362.9 260.6h.75M344.9 256.9h.75M362.2 261.4h.75M360.8 254.2h.75M364.8 267.8h.75M362.8 264.1h.75M355.6 261.5h.75M347.1 261.9h.75M365.1 259.6h.75M372.0 251.0h.75M352.7 251.4h.75M349.2 256.9h.75M341.9 258.8h.75M347.1 252.8h.75M356.5 249.1h.75M356.7 261.8h.75M357.7 261.0h.75M360.3 258.7h.75M341.6 262.5h.75M344.6 258.1h.75M353.6 254.7h.75M362.2 251.1h.75M364.6 260.1h.75M369.3 266.9h.75M359.1 262.0h.75M353.6 252.0h.75M346.9 254.6h.75M345.3 259.5h.75M344.5 261.1h.75M349.9 257.5h.75M356.3 263.0h.75M339.1 258.4h.75M381.5 260.3h.75M357.0 255.0h.75M362.1 269.4h.75M358.2 259.5h.75M352.7 248.9h.75M358.3 258.4h.75M356.4 262.5h.75M361.6 256.4h.75M358.5 264.0h.75M352.8 268.7h.75M348.8 249.8h.75M341.8 262.6h.75M342.6 261.2h.75M337.4 262.5h.75M349.9 254.8h.75M346.9 258.6h.75M361.5 261.7h.75M350.4 261.2h.75M361.2 263.0h.75M369.8 255.9h.75M360.6 261.0h.75M346.1 263.8h.75M360.7 266.1h.75M357.2 255.0h.75M354.1 262.5h.75M368.9 261.0h.75M353.9 269.6h.75M353.1 257.6h.75M355.3 264.8h.75M353.9 250.3h.75M348.4 266.2h.75M345.1 265.4h.75M354.1 255.5h.75M360.3 247.5h.75M357.7 258.6h.75M358.7 259.8h.75M353.7 257.1h.75M348.5 266.1h.75M360.0 252.3h.75M359.9 254.6h.75M359.8 261.5h.75M349.3 266.0h.75M364.6 257.2h.75M353.6 257.9h.75M352.5 269.7h.75M348.1 263.6h.75M355.0 260.7h.75M341.3 263.9h.75M341.6 264.6h.75M351.5 261.1h.75M347.9 255.2h.75M342.3 260.3h.75M351.6 261.9h.75M349.6 264.8h.75M353.8 261.0h.75M350.0 260.1h.75M358.8 256.1h.75M340.5 262.5h.75M356.6 260.4h.75M354.8 252.5h.75M342.8 260.2h.75M352.1 252.9h.75M357.0 249.0h.75M364.6 254.0h.75M346.9 254.1h.75M339.1 258.4h.75M354.1 258.5h.75M352.2 251.7h.75M362.8 262.1h.75M358.6 266.6h.75M362.3 267.9h.75M359.1 260.2h.75M349.9 247.7h.75M353.4 255.3h.75M365.7 264.6h.75M351.6 257.9h.75M363.2 257.1h.75M363.2 261.4h.75M349.5 262.4h.75M369.6 250.8h.75M359.7 264.6h.75M349.8 268.9h.75M358.9 263.4h.75M342.4 263.6h.75M339.6 263.2h.75M373.5 254.9h.75M367.7 253.8h.75M353.0 264.5h.75M338.1 262.2h.75M344.7 256.6h.75M360.6 259.7h.75M356.3 260.3h.75M356.1 269.4h.75M353.6 258.5h.75M352.6 264.5h.75M356.9 247.5h.75M351.6 262.8h.75M378.1 256.7h.75M349.6 253.4h.75M351.7 249.8h.75M344.1 259.7h.75M337.4 258.6h.75M345.6 267.7h.75M353.7 264.2h.75M375.7 256.4h.75M369.1 254.8h.75M362.8 250.9h.75M348.4 259.0h.75M349.8 248.7h.75M353.6 258.5h.75M367.0 263.7h.75M362.9 259.6h.75M345.3 252.1h.75M348.7 254.6h.75M349.6 258.3h.75M365.0 254.3h.75M355.6 253.7h.75M355.0 266.3h.75M346.7 253.1h.75M352.7 260.3h.75M346.0 262.7h.75M353.0 264.2h.75M338.7 264.7h.75M364.8 255.3h.75M371.9 261.6h.75M339.4 253.8h.75M344.9 256.3h.75M350.0 262.0h.75M350.3 258.3h.75M342.8 248.0h.75M345.3 252.9h.75M361.0 245.8h.75M363.6 243.2h.75M350.3 260.3h.75M341.3 254.4h.75M361.0 253.7h.75M351.4 260.4h.75M358.8 252.7h.75M365.4 259.3h.75M362.3 251.8h.75M363.1 259.6h.75M360.0 256.4h.75M360.9 260.4h.75M345.7 263.0h.75M350.4 257.5h.75M348.6 265.7h.75M361.6 265.7h.75M356.1 267.0h.75M352.3 261.0h.75M349.0 266.7h.75M344.2 259.3h.75M348.4 259.5h.75M347.2 264.0h.75M358.9 250.6h.75M347.9 252.3h.75M363.0 252.7h.75M357.0 261.1h.75M351.7 248.5h.75M369.2 259.3h.75M359.1 266.5h.75M342.3 254.2h.75M344.1 259.7h.75M361.8 259.3h.75M365.5 263.8h.75M351.6 264.2h.75M347.6 267.8h.75M345.7 268.0h.75M377.4 249.7h.75M369.3 251.3h.75M363.2 264.2h.75M356.1 261.3h.75M356.9 259.0h.75M349.5 252.8h.75M369.8 260.1h.75M371.4 264.7h.75M356.9 253.6h.75M349.8 260.5h.75M351.1 258.4h.75M349.8 257.3h.75M349.2 250.8h.75M343.8 269.1h.75M342.9 257.1h.75M344.1 259.2h.75M341.9 268.4h.75M347.6 262.9h.75M377.7 260.1h.75M352.3 243.0h.75M349.0 258.9h.75M353.6 261.6h.75M341.4 254.6h.75M360.1 258.6h.75M352.7 264.2h.75M353.4 261.2h.75M341.6 260.2h.75M347.4 259.4h.75M365.5 261.5h.75M354.3 258.6h.75M349.8 255.8h.75M344.7 249.5h.75M350.9 255.6h.75M371.6 253.1h.75M348.9 259.5h.75M337.1 269.7h.75M359.6 262.1h.75M371.9 263.2h.75M349.5 262.0h.75M347.8 263.2h.75M339.4 263.4h.75M349.5 257.7h.75M348.7 259.6h.75M352.4 266.0h.75M352.2 259.5h.75M340.3 257.5h.75M346.7 245.8h.75M349.6 256.0h.75M355.6 266.5h.75M349.5 267.5h.75M365.0 264.9h.75M349.2 261.0h.75M369.0 269.6h.75M364.0 249.9h.75M359.7 268.5h.75M358.4 258.5h.75M357.2 260.1h.75M367.6 265.4h.75M343.1 255.8h.75M362.8 265.7h.75M355.5 262.4h.75M340.1 255.2h.75M357.9 249.3h.75M357.5 263.9h.75M359.2 265.5h.75M371.8 262.1h.75M344.4 250.1h.75M361.6 250.3h.75M354.4 256.1h.75M350.1 261.7h.75M353.0 253.2h.75M360.2 259.6h.75M368.5 258.0h.75M368.8 250.8h.75M350.1 268.2h.75M365.8 263.5h.75M363.3 257.9h.75M359.9 266.2h.75M362.2 262.7h.75M361.1 263.0h.75M358.8 251.0h.75M358.7 254.7h.75M348.9 260.7h.75M355.2 252.4h.75M347.3 261.8h.75M348.5 260.6h.75M355.0 261.7h.75M347.2 261.5h.75M358.4 252.7h.75M360.5 254.3h.75M356.3 264.1h.75M359.1 253.3h.75M343.4 253.3h.75M358.4 261.2h.75M364.5 257.2h.75M351.8 261.8h.75M342.4 257.8h.75M358.2 258.3h.75M352.5 261.0h.75M369.9 262.0h.75M356.0 257.5h.75M365.0 260.8h.75M352.3 268.3h.75M366.1 254.8h.75M349.4 268.1h.75M347.8 269.8h.75M342.8 248.6h.75M345.3 257.7h.75M346.8 255.9h.75M354.2 261.1h.75M346.3 257.1h.75M366.0 266.1h.75M362.5 267.8h.75M350.6 265.6h.75M369.1 255.4h.75M366.2 245.5h.75M342.5 254.5h.75M347.6 265.2h.75M345.2 258.1h.75M339.5 250.7h.75M350.7 255.8h.75M361.4 261.0h.75M340.4 257.9h.75M342.0 255.3h.75M346.4 253.1h.75M345.1 258.6h.75M359.7 264.5h.75M370.3 250.5h.75M348.5 267.6h.75M341.1 259.2h.75M359.7 269.5h.75M358.2 262.2h.75M350.8 264.0h.75M353.4 262.3h.75M345.9 259.5h.75M343.5 253.7h.75M343.9 255.2h.75M345.6 256.7h.75M337.1 262.1h.75M355.5 269.5h.75M342.6 254.9h.75M352.9 255.1h.75M344.6 264.6h.75M350.5 250.5h.75M363.6 259.2h.75M365.9 259.8h.75M348.8 261.7h.75M365.3 260.9h.75M349.3 251.9h.75M354.2 253.7h.75M351.3 251.8h.75M343.6 254.4h.75M345.6 253.3h.75M364.6 264.8h.75M349.0 253.9h.75M363.2 258.7h.75M358.0 266.2h.75M348.2 262.8h.75M356.8 257.6h.75M350.6 256.4h.75M368.8 266.3h.75M379.5 260.6h.75M361.2 256.4h.75M344.8 254.9h.75M356.8 264.8h.75M361.4 264.9h.75M339.5 261.4h.75M355.6 252.2h.75M345.5 257.2h.75M365.8 262.5h.75M343.8 260.4h.75M355.9 263.7h.75M342.3 262.4h.75M345.6 257.2h.75M343.7 255.3h.75M357.1 249.6h.75M343.3 258.4h.75M351.5 269.5h.75M338.0 263.5h.75M342.6 262.3h.75M341.3 256.6h.75M339.8 257.7h.75M367.7 256.9h.75M376.8 269.8h.75M355.3 260.2h.75M355.3 255.6h.75M358.1 260.7h.75M358.0 260.4h.75M355.3 260.2h.75M347.4 266.4h.75M366.2 258.3h.75M360.2 253.7h.75M364.6 255.2h.75M352.6 265.8h.75M347.2 260.4h.75M362.2 256.8h.75M355.6 266.6h.75M354.7 255.5h.75M348.3 258.6h.75M352.3 263.9h.75M336.8 259.7h.75M354.2 269.1h.75M337.7 254.9h.75M361.0 259.9h.75M363.0 259.8h.75M345.8 259.8h.75M364.4 264.4h.75M354.1 261.0h.75M362.8 263.8h.75M354.6 264.4h.75M353.2 253.5h.75M361.1 267.2h.75M365.9 259.7h.75M340.3 262.5h.75M346.4 249.0h.75M353.7 255.6h.75M352.9 257.2h.75M360.2 265.2h.75M357.1 267.1h.75M362.3 257.8h.75M353.4 253.1h.75M347.8 261.8h.75M339.7 248.6h.75M348.7 255.2h.75M342.7 259.1h.75M338.6 266.5h.75M363.5 260.3h.75M346.4 259.7h.75M351.1 255.4h.75M345.8 262.6h.75M343.3 256.3h.75M347.7 254.2h.75M354.7 252.6h.75M361.2 264.3h.75M351.8 265.0h.75M362.8 257.8h.75M351.6 256.5h.75M348.6 257.8h.75M352.9 263.1h.75M373.6 262.0h.75M361.3 258.7h.75M368.2 260.8h.75M350.4 258.4h.75M352.4 257.8h.75M352.8 255.6h.75M342.3 255.6h.75M353.5 262.1h.75M356.6 266.8h.75M342.9 256.2h.75M343.5 254.2h.75M345.7 255.1h.75M358.7 253.8h.75M373.3 248.0h.75M360.1 250.9h.75M347.3 252.9h.75M352.1 262.8h.75M348.0 256.2h.75M342.4 255.1h.75M343.7 256.0h.75M352.6 265.1h.75M345.2 248.2h.75M348.4 264.7h.75M342.0 262.0h.75M340.7 252.6h.75M354.0 249.1h.75M347.9 244.2h.75M341.7 262.1h.75M347.0 255.8h.75M357.0 254.5h.75M340.7 257.5h.75M351.0 260.7h.75M350.0 266.7h.75M357.2 259.0h.75M374.0 250.8h.75M354.1 255.3h.75M372.5 261.5h.75M359.7 262.1h.75M365.9 256.6h.75M360.5 249.8h.75M357.2 266.4h.75M360.1 263.3h.75M348.4 268.6h.75M356.9 263.6h.75M364.3 262.8h.75M338.5 255.1h.75M349.8 252.3h.75M356.4 257.3h.75M348.7 267.3h.75M350.7 258.3h.75M362.5 257.7h.75M356.7 269.8h.75M338.4 251.5h.75M344.7 258.5h.75M341.0 261.2h.75M344.1 266.3h.75M356.5 263.7h.75M353.7 261.0h.75M340.6 254.5h.75M340.9 269.5h.75M349.4 256.6h.75M351.3 256.5h.75M344.7 263.9h.75M347.2 264.9h.75M357.4 265.1h.75M366.8 265.9h.75M342.4 267.5h.75M363.4 253.6h.75M364.0 248.8h.75M361.4 257.4h.75M348.8 258.7h.75M346.1 264.0h.75M351.1 259.5h.75M352.1 257.6h.75M341.8 263.2h.75M359.7 252.9h.75M360.9 267.1h.75M353.3 268.3h.75M344.4 261.5h.75M347.7 263.6h.75M337.5 258.0h.75M355.8 259.1h.75M344.3 268.4h.75M336.7 260.3h.75M350.0 257.6h.75M357.9 261.2h.75M349.9 263.6h.75M350.9 262.9h.75M364.0 261.2h.75M352.3 256.5h.75M365.4 265.4h.75M356.8 261.6h.75M343.6 260.3h.75M354.6 253.0h.75M342.4 259.2h.75M370.3 261.9h.75M337.6 267.2h.75M360.4 263.9h.75M346.4 259.1h.75M372.9 266.3h.75M396.2 249.2h.75M342.8 255.9h.75M358.8 267.6h.75M337.9 263.2h.75M360.1 261.3h.75M364.9 266.6h.75M343.9 260.6h.75M354.4 252.9h.75M349.5 265.8h.75M355.5 260.0h.75M376.9 263.5h.75M361.1 254.8h.75M363.6 257.3h.75M350.0 257.4h.75M339.3 263.2h.75M339.8 264.7h.75M343.9 267.3h.75M355.0 266.7h.75M341.0 263.2h.75M359.0 261.5h.75M350.7 256.5h.75M339.4 253.8h.75M355.4 244.4h.75M344.4 263.9h.75M352.1 258.6h.75M344.2 260.9h.75M336.8 256.6h.75M359.6 254.5h.75M350.5 257.7h.75M339.6 248.3h.75M343.3 255.4h.75M368.8 259.6h.75M378.0 263.6h.75M378.3 253.1h.75M385.4 262.0h.75M380.9 252.4h.75M379.5 266.5h.75M371.9 260.9h.75M375.5 263.8h.75M377.0 261.5h.75M369.7 253.0h.75M369.2 263.1h.75M385.1 256.2h.75M364.7 262.1h.75M375.6 254.9h.75M386.3 264.1h.75M375.9 251.9h.75M384.6 266.6h.75M381.7 269.6h.75M368.8 254.1h.75M381.9 262.6h.75M375.6 257.1h.75M383.0 261.5h.75M381.9 253.2h.75M376.4 262.5h.75M383.0 250.1h.75M374.6 256.1h.75M376.0 259.2h.75M378.9 264.7h.75M377.8 259.6h.75M382.1 268.3h.75M376.4 255.3h.75M388.2 265.4h.75M391.0 257.6h.75M373.3 259.0h.75M375.4 251.3h.75M381.8 251.2h.75M356.8 259.7h.75M368.6 261.5h.75M368.0 252.0h.75M361.8 252.5h.75M380.7 256.2h.75M385.3 261.5h.75M363.0 249.6h.75M365.5 256.6h.75M376.3 256.4h.75M372.2 254.4h.75M377.2 264.7h.75M368.6 267.4h.75M370.2 258.3h.75M387.6 263.6h.75M376.3 248.6h.75M376.6 257.9h.75M374.5 266.6h.75M376.3 261.0h.75M373.9 260.6h.75M385.4 261.5h.75M369.1 255.4h.75M384.1 263.3h.75M370.1 259.3h.75M376.7 263.4h.75M369.3 260.6h.75M367.0 255.4h.75M374.4 268.1h.75M378.7 267.7h.75M374.9 249.3h.75M360.9 257.5h.75M388.4 259.1h.75M372.5 263.7h.75M373.4 257.8h.75M377.4 262.4h.75M372.0 255.2h.75M387.2 254.9h.75M369.7 258.9h.75M375.0 261.8h.75M386.9 267.8h.75M375.7 260.7h.75M382.8 259.3h.75M377.2 253.5h.75M378.8 259.5h.75M366.0 261.4h.75M391.4 262.0h.75M370.4 267.7h.75M378.5 261.2h.75M386.6 265.5h.75M390.6 255.3h.75M373.0 259.5h.75M377.4 253.0h.75M378.0 251.7h.75M372.1 258.5h.75M377.8 261.9h.75M370.7 262.0h.75M378.1 259.5h.75M376.2 257.0h.75M388.6 268.2h.75M377.8 267.9h.75M369.9 256.9h.75M373.7 262.7h.75M373.7 254.5h.75M365.6 253.4h.75M382.5 262.9h.75M372.6 257.3h.75M374.8 260.3h.75M373.3 259.8h.75M381.4 265.5h.75M371.3 259.0h.75M370.8 257.4h.75M375.3 258.1h.75M380.2 254.5h.75M378.7 264.4h.75M373.8 258.1h.75M380.2 257.8h.75M373.7 261.2h.75M358.8 264.2h.75M377.7 263.5h.75M366.4 257.5h.75M379.1 263.3h.75M371.9 257.3h.75M386.6 261.6h.75M384.6 252.0h.75M379.0 256.7h.75M372.5 267.6h.75M368.7 254.4h.75M371.2 258.6h.75M376.2 262.5h.75M384.6 262.8h.75M388.3 266.3h.75M379.8 259.1h.75M385.6 258.2h.75M382.9 260.2h.75M372.1 264.0h.75M380.8 261.8h.75M383.6 260.7h.75M371.0 260.5h.75M389.0 254.3h.75M363.4 260.0h.75M368.9 268.0h.75M377.1 254.5h.75M375.6 254.4h.75M379.4 265.5h.75M384.4 266.3h.75M375.9 267.0h.75M379.4 252.4h.75M385.5 254.8h.75M371.9 250.8h.75M370.3 247.5h.75M367.5 255.1h.75M367.8 257.7h.75M381.5 258.2h.75M379.0 266.6h.75M371.8 268.8h.75M375.7 259.7h.75M378.5 268.1h.75M367.6 265.5h.75M372.7 260.6h.75M369.0 245.0h.75M384.1 264.5h.75M368.7 254.6h.75M367.7 259.8h.75M390.2 259.2h.75M364.2 264.4h.75M369.7 250.6h.75M378.7 260.0h.75M377.2 264.2h.75M382.6 247.6h.75M377.2 266.8h.75M384.6 253.9h.75M363.3 253.4h.75M378.7 258.8h.75M381.7 258.9h.75M367.2 253.4h.75M374.4 264.9h.75M386.3 254.1h.75M379.1 259.6h.75M368.0 253.0h.75M386.8 257.4h.75M375.4 262.7h.75M378.5 264.1h.75M370.4 257.7h.75M377.8 262.1h.75M370.9 249.9h.75M382.0 265.0h.75M382.6 259.3h.75M363.5 257.6h.75M390.1 261.8h.75M377.7 250.3h.75M371.5 265.8h.75M378.3 259.2h.75M384.7 264.2h.75M379.8 259.0h.75M378.9 266.2h.75M378.2 252.5h.75M374.8 258.3h.75M378.9 267.6h.75M375.5 257.4h.75M381.1 262.8h.75M370.6 262.8h.75M377.3 262.1h.75M365.4 248.2h.75M365.5 250.0h.75M382.8 265.9h.75M367.0 268.7h.75M368.1 255.2h.75M391.0 252.3h.75M380.9 264.9h.75M383.7 263.9h.75M377.8 269.2h.75M375.5 260.6h.75M378.8 258.0h.75M375.0 267.2h.75M387.3 263.6h.75M375.3 257.1h.75M373.3 257.8h.75M373.0 259.5h.75M374.5 266.4h.75M366.2 257.6h.75M381.7 257.6h.75M373.2 263.3h.75M375.5 254.3h.75M377.1 263.8h.75M364.3 265.5h.75M364.1 264.2h.75M366.9 261.4h.75M375.8 266.2h.75M375.5 257.5h.75M370.9 261.3h.75M374.4 265.3h.75M378.9 267.4h.75M381.0 261.1h.75M375.6 263.8h.75M381.4 252.1h.75M378.8 257.9h.75M378.3 264.8h.75M362.8 259.4h.75M383.0 249.7h.75M377.6 260.2h.75M372.2 265.4h.75M382.5 260.2h.75M385.9 268.8h.75M377.5 265.1h.75M381.7 264.2h.75M377.0 264.4h.75M387.1 259.7h.75M375.4 254.4h.75M394.0 257.8h.75M372.7 256.8h.75M384.4 262.3h.75M362.1 261.0h.75M388.9 259.9h.75M374.5 258.9h.75M379.3 250.5h.75M375.2 258.9h.75M381.4 258.0h.75M377.2 252.6h.75M367.5 260.5h.75M387.6 254.4h.75M365.2 267.2h.75M378.9 265.0h.75M375.1 261.7h.75M375.6 260.2h.75M388.7 257.8h.75M373.5 260.3h.75M375.2 262.6h.75M367.7 263.5h.75M380.8 264.2h.75M365.2 256.5h.75M389.7 266.4h.75M371.9 259.0h.75M381.8 248.6h.75M385.9 269.0h.75M382.3 258.6h.75M378.8 250.7h.75M369.7 257.6h.75M379.4 245.8h.75M384.3 263.2h.75M374.7 256.0h.75M390.7 261.7h.75M378.1 250.7h.75M372.3 265.6h.75M377.2 257.5h.75M374.1 250.7h.75M359.2 263.4h.75M366.2 250.8h.75M378.5 265.8h.75M373.8 266.8h.75M376.6 241.5h.75M387.6 253.7h.75M387.3 258.5h.75M375.8 257.4h.75M369.2 263.8h.75M387.9 267.9h.75M372.4 263.2h.75M383.6 263.7h.75M371.1 255.2h.75M377.2 261.6h.75M372.4 252.4h.75M367.7 260.2h.75M363.1 267.0h.75M380.8 261.5h.75M377.7 255.0h.75M372.3 265.6h.75M372.6 269.7h.75M383.4 264.3h.75M374.6 254.6h.75M375.2 254.4h.75M373.7 258.1h.75M372.3 267.0h.75M370.0 255.7h.75M384.5 261.7h.75M379.7 256.4h.75M378.5 268.1h.75M376.4 262.8h.75M384.8 263.8h.75M384.9 253.0h.75M363.9 253.5h.75M379.2 256.1h.75M385.4 257.0h.75M371.6 256.0h.75M381.3 262.9h.75M377.2 268.4h.75M370.5 253.0h.75M376.2 259.9h.75M376.9 262.6h.75M365.4 269.7h.75M363.7 262.2h.75M378.7 265.1h.75M377.8 255.2h.75M374.8 251.9h.75M375.0 258.8h.75M372.0 263.4h.75M385.3 260.0h.75M373.3 253.5h.75M371.0 255.8h.75M375.1 264.9h.75M377.5 269.1h.75M379.0 261.6h.75M354.8 259.2h.75M378.0 251.3h.75M375.7 255.9h.75M374.7 259.9h.75M374.2 259.8h.75M378.7 262.0h.75M371.5 265.6h.75M376.6 262.4h.75M391.4 258.7h.75M379.1 263.0h.75M376.9 259.3h.75M382.0 267.0h.75M391.6 257.0h.75M379.4 255.7h.75M374.3 246.0h.75M391.0 250.6h.75M376.9 249.5h.75M373.8 254.0h.75M361.5 253.9h.75M374.6 259.4h.75M362.6 263.9h.75M374.0 253.3h.75M386.8 255.9h.75M377.8 269.2h.75M376.6 259.5h.75M382.9 257.5h.75M376.6 259.2h.75M373.5 264.6h.75M378.1 268.6h.75M378.9 251.7h.75M378.9 258.4h.75M374.4 265.9h.75M379.0 250.5h.75M390.2 259.3h.75M364.7 258.1h.75M379.5 253.4h.75M370.1 249.4h.75M378.0 256.9h.75M386.8 261.8h.75M377.8 256.4h.75M383.0 251.9h.75M378.1 263.0h.75M370.6 253.0h.75M379.3 259.0h.75M373.3 252.8h.75M382.5 256.7h.75M361.2 242.7h.75M373.5 234.9h.75M370.5 239.0h.75M369.7 239.1h.75M363.5 223.1h.75M361.6 248.4h.75M364.5 241.3h.75M374.8 233.1h.75M368.9 238.2h.75M372.1 244.3h.75M369.0 238.6h.75M378.6 241.0h.75M351.9 248.9h.75M373.1 236.0h.75M367.5 233.4h.75M369.7 229.8h.75M379.2 243.4h.75M357.2 243.6h.75M352.2 236.3h.75M357.1 244.9h.75M375.8 230.6h.75M370.1 243.6h.75M364.3 257.0h.75M350.8 249.4h.75M384.6 237.6h.75M355.6 248.5h.75M340.8 239.8h.75M352.4 239.9h.75M361.8 230.9h.75M374.2 248.2h.75M353.0 244.6h.75M369.1 235.3h.75M362.2 243.9h.75M380.4 238.1h.75M340.9 245.6h.75M372.4 226.4h.75M362.3 239.9h.75M364.8 242.1h.75M358.3 244.5h.75M337.8 242.5h.75M361.5 239.1h.75M375.2 249.5h.75M356.8 239.3h.75M356.7 240.3h.75M361.5 231.6h.75M380.3 242.5h.75M368.0 249.3h.75M349.9 242.7h.75M385.7 237.5h.75M358.3 234.4h.75M381.5 247.4h.75M371.5 246.5h.75M360.5 237.2h.75M377.0 233.3h.75M370.3 239.7h.75M358.5 241.4h.75M353.8 235.4h.75M346.1 231.0h.75M358.1 242.4h.75M368.0 231.1h.75M365.1 255.7h.75M368.7 242.7h.75M344.5 236.4h.75M380.4 229.8h.75M357.9 234.6h.75M366.3 244.1h.75M348.5 244.6h.75M338.7 233.4h.75M372.2 231.7h.75M358.4 236.1h.75M385.4 232.7h.75M378.3 253.6h.75M363.4 234.1h.75M367.6 232.7h.75M363.5 232.2h.75M351.1 228.4h.75M377.7 234.9h.75M354.8 247.2h.75M365.6 237.3h.75M359.1 239.7h.75M364.0 236.6h.75M365.5 245.1h.75M365.3 248.9h.75M378.3 232.4h.75M356.7 230.6h.75M359.0 244.7h.75M363.7 236.1h.75M368.5 224.2h.75M371.0 238.3h.75M374.8 237.5h.75M378.4 247.1h.75M364.1 243.6h.75M357.4 234.5h.75M355.2 238.1h.75M353.8 231.9h.75M364.9 229.2h.75M373.8 233.0h.75M364.6 237.4h.75M378.5 243.8h.75M364.6 235.4h.75M376.8 238.5h.75M355.6 240.4h.75M374.2 239.3h.75M367.8 249.9h.75M361.5 244.9h.75M384.6 251.5h.75M354.5 243.3h.75M368.8 256.4h.75M381.4 246.7h.75M380.4 243.5h.75M355.7 255.3h.75M348.5 245.0h.75M375.9 240.9h.75M378.5 239.4h.75M376.3 241.3h.75M359.2 246.5h.75M361.1 244.0h.75M355.8 241.3h.75M373.4 247.7h.75M355.3 235.8h.75M367.2 232.3h.75M374.1 256.3h.75M374.9 244.0h.75M358.2 243.6h.75M373.3 253.5h.75M363.5 248.3h.75M363.5 237.7h.75M362.7 241.6h.75M350.8 237.0h.75M383.9 226.8h.75M377.2 245.1h.75M362.7 234.1h.75M380.1 237.2h.75M370.8 238.1h.75M355.0 247.0h.75M374.7 233.0h.75M379.7 230.8h.75M353.2 245.7h.75M362.7 239.6h.75M385.1 232.0h.75M374.3 236.8h.75M368.5 238.1h.75M358.7 240.0h.75M357.2 239.8h.75M356.8 237.7h.75M368.9 229.8h.75M366.7 244.6h.75M368.8 246.2h.75M356.4 243.8h.75M370.9 220.2h.75M367.4 245.8h.75M366.7 239.9h.75M366.0 238.5h.75M355.8 234.8h.75M343.1 254.4h.75M367.2 241.2h.75M374.4 243.2h.75M366.6 228.6h.75M354.2 251.5h.75M372.1 244.3h.75M355.8 236.3h.75M370.4 234.2h.75M380.7 234.3h.75M362.7 231.5h.75M371.4 248.8h.75M369.8 239.6h.75M363.4 245.3h.75M367.4 252.0h.75M364.5 237.0h.75M361.6 226.2h.75M370.0 240.5h.75M349.8 231.4h.75M355.6 237.4h.75M356.2 245.0h.75M380.6 235.1h.75M367.7 232.2h.75M382.0 232.0h.75M358.7 239.7h.75M358.5 258.5h.75M365.3 237.9h.75M356.5 239.0h.75M360.7 236.7h.75M378.4 235.5h.75M372.0 235.2h.75M378.5 234.3h.75M356.7 237.9h.75M381.2 236.8h.75M357.8 238.6h.75M359.6 241.5h.75M359.9 241.9h.75M377.3 243.1h.75M384.0 241.8h.75M387.8 248.5h.75M364.4 245.1h.75M359.3 238.2h.75M366.5 234.1h.75M370.8 239.0h.75M389.3 245.0h.75M364.8 234.9h.75M361.5 234.8h.75M359.2 239.7h.75M352.6 237.5h.75M372.8 235.6h.75M355.1 236.1h.75M376.8 234.3h.75M384.5 228.0h.75M358.6 243.9h.75M382.2 238.2h.75M349.3 237.7h.75M357.5 234.8h.75M363.3 235.4h.75M367.0 240.6h.75M364.2 227.2h.75M365.4 221.4h.75M368.2 236.7h.75M357.2 254.2h.75M385.6 249.0h.75M369.8 236.2h.75M372.5 251.0h.75M366.4 238.6h.75M361.0 239.2h.75M376.6 233.3h.75M379.0 240.6h.75M391.9 241.0h.75M381.3 232.8h.75M393.9 240.2h.75M366.6 250.1h.75M369.2 231.1h.75M374.2 243.5h.75M367.3 236.4h.75M381.8 268.0h.75M391.1 257.5h.75M390.6 249.0h.75M396.9 247.6h.75M402.1 241.9h.75M399.4 264.1h.75M391.1 256.4h.75M401.2 251.2h.75M392.8 253.2h.75M416.4 248.2h.75M393.3 251.1h.75M390.3 247.3h.75M389.5 255.9h.75M403.9 267.6h.75M384.5 246.9h.75M394.4 246.9h.75M388.5 252.9h.75M390.2 248.0h.75M396.4 248.5h.75M392.6 257.2h.75M400.4 256.3h.75M403.4 255.9h.75M383.0 266.4h.75M417.4 261.1h.75M407.5 263.5h.75M391.2 259.7h.75M389.2 250.2h.75M399.2 255.4h.75M389.5 243.5h.75M401.1 254.7h.75M395.9 247.7h.75M388.6 254.4h.75M379.9 264.3h.75M394.9 263.4h.75M402.4 250.2h.75M398.8 245.9h.75M387.5 265.3h.75M390.5 248.6h.75M398.5 255.0h.75M402.5 244.6h.75" stroke="#8a8a8a" stroke-width="0.75" fill="none" opacity="0.55"/>
<path d="M335.8 187.8H440.6V270.5" fill="none" stroke="#888" stroke-width="0.7"/>
<path d="M335.8 187.8V270.5H440.6" fill="none" stroke="#666" stroke-width="0.75"/>
<path d="M365.7 187.8V270.5M335.8 248.4H440.6" fill="none" stroke="#777" stroke-width="0.7"/>
<path d="M335.8 270.5v2.4M335.8 270.5h-2M343.7 270.5v1.2M335.8 264.3h-1.1M348.3 270.5v1.2M335.8 260.6h-1.1M351.6 270.5v1.2M335.8 258.1h-1.1M354.1 270.5v1.2M335.8 256.0h-1.1M356.2 270.5v1.2M335.8 254.4h-1.1M357.9 270.5v1.2M335.8 253.0h-1.1M359.5 270.5v1.2M335.8 251.8h-1.1M360.8 270.5v1.2M335.8 250.8h-1.1M362.0 270.5v2.4M335.8 249.8h-2M369.9 270.5v1.2M335.8 243.6h-1.1M374.5 270.5v1.2M335.8 240.0h-1.1M377.8 270.5v1.2M335.8 237.4h-1.1M380.3 270.5v1.2M335.8 235.4h-1.1M382.4 270.5v1.2M335.8 233.7h-1.1M384.1 270.5v1.2M335.8 232.4h-1.1M385.7 270.5v1.2M335.8 231.2h-1.1M387.0 270.5v1.2M335.8 230.1h-1.1M388.2 270.5v2.4M335.8 229.2h-2M396.1 270.5v1.2M335.8 222.9h-1.1M400.7 270.5v1.2M335.8 219.3h-1.1M404.0 270.5v1.2M335.8 216.7h-1.1M406.5 270.5v1.2M335.8 214.7h-1.1M408.6 270.5v1.2M335.8 213.1h-1.1M410.3 270.5v1.2M335.8 211.7h-1.1M411.9 270.5v1.2M335.8 210.5h-1.1M413.2 270.5v1.2M335.8 209.4h-1.1M414.4 270.5v2.4M335.8 208.5h-2M422.3 270.5v1.2M335.8 202.3h-1.1M426.9 270.5v1.2M335.8 198.6h-1.1M430.2 270.5v1.2M335.8 196.0h-1.1M432.7 270.5v1.2M335.8 194.0h-1.1M434.8 270.5v1.2M335.8 192.4h-1.1M436.5 270.5v1.2M335.8 191.0h-1.1M438.1 270.5v1.2M335.8 189.8h-1.1M439.4 270.5v1.2M335.8 188.7h-1.1M440.6 270.5v2.4M335.8 187.8h-2" stroke="#555" stroke-width="0.45" fill="none"/>
<g class="an" font-size="5" fill="#000" stroke="#000" stroke-width="0.12">
<text x="333.0" y="279.1"><tspan letter-spacing="-1.1">10</tspan><tspan dx="1.6" dy="-2.3">0</tspan></text>
<text x="359.2" y="279.1"><tspan letter-spacing="-1.1">10</tspan><tspan dx="1.6" dy="-2.3">1</tspan></text>
<text x="385.4" y="279.1"><tspan letter-spacing="-1.1">10</tspan><tspan dx="1.6" dy="-2.3">2</tspan></text>
<text x="411.6" y="279.1"><tspan letter-spacing="-1.1">10</tspan><tspan dx="1.6" dy="-2.3">3</tspan></text>
<text x="437.8" y="279.1"><tspan letter-spacing="-1.1">10</tspan><tspan dx="1.6" dy="-2.3">4</tspan></text>
<text x="323.0" y="248.7"><tspan>10</tspan><tspan dx="0.5" dy="-3.8">1</tspan></text>
<text x="323.0" y="228.9"><tspan>10</tspan><tspan dx="0.5" dy="-3.8">2</tspan></text>
<text x="323.0" y="209.2"><tspan>10</tspan><tspan dx="0.5" dy="-3.8">3</tspan></text>
<text x="323.0" y="189.4"><tspan>10</tspan><tspan dx="0.5" dy="-3.8">4</tspan></text>
</g>
<text class="ab" x="318.8" y="179.6" font-size="9" fill="#000">CD25- PBMC: Tumor cells= 1:1</text>
<text class="ab" x="438.5" y="200.6" font-size="9" fill="#000" text-anchor="end">10.6%</text>
<path d="M347.5 380.4h.75M350.0 385.2h.75M341.3 376.5h.75M337.6 392.4h.75M346.4 380.3h.75M351.3 380.2h.75M358.0 392.0h.75M350.1 383.4h.75M367.9 388.0h.75M344.9 391.6h.75M346.3 379.6h.75M348.8 390.4h.75M364.3 386.7h.75M345.4 378.4h.75M354.6 385.2h.75M360.6 396.1h.75M360.9 387.9h.75M345.5 384.0h.75M359.4 389.7h.75M340.4 384.8h.75M347.2 386.0h.75M339.2 395.7h.75M348.6 390.8h.75M356.2 382.5h.75M345.9 392.0h.75M364.6 378.2h.75M366.9 383.5h.75M348.1 384.3h.75M355.1 385.7h.75M349.4 381.4h.75M362.8 389.0h.75M355.6 395.1h.75M347.4 387.7h.75M348.5 392.1h.75M352.4 376.8h.75M355.0 385.6h.75M352.1 392.6h.75M347.4 390.7h.75M350.0 386.4h.75M345.3 386.3h.75M347.1 391.6h.75M349.2 380.7h.75M356.9 386.7h.75M354.8 394.9h.75M351.8 377.4h.75M349.0 376.2h.75M345.5 393.6h.75M339.4 384.2h.75M359.7 377.3h.75M355.9 395.5h.75M341.0 386.0h.75M364.7 395.7h.75M364.4 386.3h.75M346.6 385.9h.75M346.5 391.8h.75M357.5 390.0h.75M343.8 391.6h.75M354.3 388.3h.75M360.9 384.7h.75M351.1 393.5h.75M343.2 392.2h.75M356.6 395.9h.75M361.6 383.5h.75M366.0 384.2h.75M339.4 385.3h.75M346.9 381.7h.75M358.8 390.0h.75M355.5 378.8h.75M366.3 389.8h.75M360.4 389.1h.75M353.3 391.6h.75M351.5 395.2h.75M345.4 374.9h.75M346.8 386.9h.75M353.7 387.6h.75M353.9 389.7h.75M348.5 390.3h.75M355.0 382.4h.75M354.5 393.4h.75M360.0 388.8h.75M360.5 383.6h.75M345.9 395.0h.75M339.4 386.9h.75M340.7 379.9h.75M369.1 376.5h.75M365.9 384.4h.75M343.4 377.2h.75M352.1 390.7h.75M355.3 381.6h.75M364.8 388.3h.75M354.8 390.6h.75M355.1 385.2h.75M353.3 382.8h.75M352.4 381.3h.75M337.4 383.5h.75M348.8 383.0h.75M347.4 383.8h.75M355.3 392.1h.75M359.0 392.2h.75M353.8 392.1h.75M359.7 386.1h.75M347.7 387.0h.75M349.7 389.8h.75M346.2 384.6h.75M352.2 390.0h.75M349.2 378.3h.75M348.0 392.0h.75M348.1 394.5h.75M345.7 385.6h.75M357.2 393.9h.75M347.5 395.7h.75M351.8 389.4h.75M366.1 392.0h.75M348.3 386.7h.75M342.1 393.7h.75M361.0 387.2h.75M344.8 385.2h.75M361.3 386.4h.75M360.3 394.4h.75M363.4 388.6h.75M356.5 379.6h.75M353.2 387.3h.75M358.4 376.8h.75M351.7 384.4h.75M351.1 386.3h.75M347.2 390.7h.75M352.6 393.8h.75M372.4 391.4h.75M353.4 395.8h.75M340.2 384.4h.75M350.8 379.3h.75M344.7 388.1h.75M353.9 379.0h.75M354.4 391.9h.75M345.3 383.6h.75M377.5 386.6h.75M341.2 379.4h.75M347.9 397.2h.75M356.4 381.9h.75M338.0 383.5h.75M350.0 388.8h.75M354.5 393.7h.75M338.4 378.1h.75M349.4 390.6h.75M345.3 388.7h.75M349.4 393.9h.75M348.3 384.4h.75M354.7 393.0h.75M344.5 386.5h.75M343.8 380.5h.75M371.7 383.6h.75M347.3 385.1h.75M342.9 386.3h.75M349.4 389.3h.75M345.2 378.8h.75M349.0 391.3h.75M361.4 386.6h.75M347.8 382.7h.75M363.4 383.6h.75M345.6 386.8h.75M348.1 387.5h.75M353.9 397.1h.75M354.7 389.6h.75M354.8 392.3h.75M347.3 386.6h.75M346.8 386.1h.75M346.6 391.8h.75M359.7 386.9h.75M347.6 392.1h.75M348.3 390.4h.75M344.4 395.4h.75M346.1 390.5h.75M365.4 389.5h.75M347.9 391.5h.75M363.7 374.1h.75M346.8 386.3h.75M357.9 378.3h.75M357.4 387.5h.75M355.2 381.1h.75M351.3 390.7h.75M340.9 370.4h.75M349.5 385.8h.75M356.2 387.5h.75M338.4 373.9h.75M360.0 392.9h.75M349.0 385.7h.75M356.4 384.0h.75M338.8 394.6h.75M337.8 384.7h.75M361.7 390.0h.75M359.9 396.0h.75M352.0 378.4h.75M356.8 378.6h.75M349.1 387.7h.75M353.3 387.0h.75M361.7 389.2h.75M359.8 386.7h.75M350.4 388.1h.75M354.5 391.8h.75M345.9 390.9h.75M375.0 371.1h.75M355.9 386.5h.75M348.2 383.6h.75M339.7 388.7h.75M343.7 396.6h.75M351.3 378.6h.75M354.1 388.4h.75M357.9 372.8h.75M350.9 395.9h.75M350.9 374.9h.75M354.0 390.1h.75M362.8 390.5h.75M341.3 394.2h.75M356.6 394.4h.75M348.6 393.4h.75M355.7 396.8h.75M355.3 388.2h.75M348.8 384.6h.75M360.2 376.4h.75M352.7 396.2h.75M341.4 387.2h.75M355.1 383.7h.75M357.3 384.1h.75M350.2 383.2h.75M340.7 391.5h.75M342.0 379.1h.75M343.2 390.7h.75M355.6 394.5h.75M342.4 396.2h.75M364.6 389.8h.75M359.7 397.2h.75M353.7 381.9h.75M355.0 389.4h.75M350.7 385.8h.75M361.5 387.4h.75M339.1 389.1h.75M359.3 377.4h.75M340.2 388.7h.75M353.9 390.6h.75M352.9 391.5h.75M343.3 385.7h.75M349.5 389.9h.75M367.9 392.6h.75M340.9 389.5h.75M365.7 387.8h.75M357.1 388.3h.75M340.1 387.6h.75M346.7 379.5h.75M349.0 384.9h.75M348.1 391.6h.75M340.7 387.7h.75M353.7 389.0h.75M352.8 387.8h.75M345.0 384.8h.75M341.9 382.5h.75M349.4 392.1h.75M356.4 388.3h.75M359.1 383.8h.75M348.6 380.1h.75M349.2 392.6h.75M342.3 386.7h.75M348.0 386.9h.75M346.6 388.9h.75M339.0 388.0h.75M365.5 380.5h.75M357.7 383.0h.75M356.4 391.0h.75M365.2 391.2h.75M349.4 373.3h.75M346.3 379.9h.75M357.7 384.4h.75M340.7 385.5h.75M364.4 380.2h.75M343.0 390.4h.75M344.5 395.1h.75M343.6 379.8h.75M336.7 385.8h.75M360.3 387.3h.75M344.9 377.9h.75M352.6 383.1h.75M371.2 380.0h.75M337.9 379.4h.75M351.9 390.7h.75M352.3 394.3h.75M356.5 383.5h.75M365.5 382.4h.75M352.1 387.4h.75M360.6 386.9h.75M353.2 375.3h.75M349.5 388.0h.75M363.9 376.7h.75M339.3 392.2h.75M371.3 388.0h.75M346.8 381.8h.75M354.6 393.5h.75M357.3 381.4h.75M343.8 386.0h.75M354.0 390.5h.75M346.6 393.4h.75M356.7 385.3h.75M352.0 396.8h.75M356.1 385.3h.75M347.2 392.9h.75M353.7 388.0h.75M343.6 385.6h.75M338.5 387.9h.75M341.7 378.8h.75M371.0 379.4h.75M361.3 393.4h.75M354.5 387.5h.75M349.8 390.2h.75M353.8 390.6h.75M356.0 377.3h.75M338.6 386.9h.75M349.8 379.0h.75M358.8 390.1h.75M353.0 393.5h.75M355.9 386.4h.75M344.8 394.1h.75M345.8 382.7h.75M341.6 391.3h.75M352.6 386.2h.75M358.9 382.1h.75M357.7 384.0h.75M348.9 385.9h.75M352.2 395.6h.75M344.8 393.4h.75M361.5 386.2h.75M344.4 380.2h.75M348.6 387.9h.75M341.7 389.8h.75M352.6 393.1h.75M369.2 393.3h.75M342.7 386.4h.75M338.5 384.6h.75M337.4 394.0h.75M351.4 377.8h.75M357.3 395.0h.75M366.3 385.6h.75M357.1 388.3h.75M363.3 387.1h.75M360.4 381.0h.75M344.2 380.6h.75M348.6 379.5h.75M351.6 383.7h.75M337.5 388.6h.75M360.5 390.2h.75M353.3 385.7h.75M348.6 377.5h.75M368.0 377.0h.75M342.1 380.8h.75M340.4 388.0h.75M343.4 383.7h.75M353.4 379.8h.75M340.1 389.9h.75M345.6 376.0h.75M355.6 378.3h.75M350.0 387.2h.75M352.7 388.7h.75M346.4 386.9h.75M343.4 392.3h.75M349.6 390.2h.75M345.9 385.6h.75M354.5 391.0h.75M346.6 370.5h.75M351.4 391.4h.75M361.6 385.5h.75M359.8 365.4h.75M346.4 383.2h.75M368.9 385.6h.75M373.6 387.3h.75M346.1 383.5h.75M342.5 387.8h.75M351.4 381.0h.75M366.2 393.5h.75M347.3 390.2h.75M348.5 384.0h.75M342.3 383.0h.75M366.2 397.3h.75M348.9 385.1h.75M360.5 381.9h.75M356.8 377.7h.75M353.8 391.6h.75M357.7 396.7h.75M361.1 384.5h.75M337.6 372.8h.75M340.4 386.2h.75M354.2 389.7h.75M351.2 385.9h.75M353.5 394.0h.75M350.7 392.9h.75M363.2 388.4h.75M356.6 389.2h.75M361.1 392.5h.75M352.3 394.5h.75M361.4 388.6h.75M352.6 391.7h.75M352.2 385.4h.75M339.6 387.4h.75M348.6 390.5h.75M347.8 387.0h.75M357.4 387.3h.75M345.0 390.2h.75M347.7 381.0h.75M340.7 381.9h.75M344.9 373.5h.75M337.2 383.5h.75M346.6 386.2h.75M355.6 380.6h.75M364.4 389.4h.75M341.2 390.4h.75M366.4 378.6h.75M351.2 380.5h.75M336.7 391.1h.75M358.0 383.0h.75M346.6 379.6h.75M344.1 385.7h.75M348.6 391.5h.75M352.0 386.9h.75M351.2 391.0h.75M355.4 378.8h.75M348.5 389.7h.75M343.1 378.2h.75M341.0 379.6h.75M348.2 386.1h.75M355.1 375.3h.75M354.4 392.1h.75M374.5 385.3h.75M357.1 376.5h.75M360.1 397.2h.75M352.7 383.4h.75M364.0 381.2h.75M366.6 380.5h.75M354.6 389.0h.75M351.9 383.5h.75M340.8 395.6h.75M354.4 381.7h.75M338.1 391.8h.75M362.7 386.8h.75M346.2 390.6h.75M354.8 394.6h.75M348.8 382.8h.75M349.5 378.8h.75M340.1 383.8h.75M348.7 387.6h.75M337.1 384.9h.75M368.4 376.5h.75M346.8 384.2h.75M355.9 382.2h.75M371.1 383.7h.75M352.5 388.1h.75M362.9 389.7h.75M337.4 387.4h.75M344.5 394.2h.75M355.1 389.3h.75M349.3 382.7h.75M359.8 392.7h.75M371.0 385.5h.75M360.5 380.6h.75M355.2 387.2h.75M340.4 383.3h.75M351.2 385.7h.75M347.5 385.4h.75M350.1 384.4h.75M366.0 386.0h.75M351.5 382.1h.75M342.8 381.3h.75M337.9 387.3h.75M341.7 389.0h.75M351.1 378.4h.75M370.3 384.9h.75M351.4 384.2h.75M339.5 386.8h.75M354.9 374.3h.75M350.4 387.8h.75M366.8 375.0h.75M343.6 393.9h.75M343.3 390.9h.75M341.0 380.0h.75M357.0 383.7h.75M340.2 387.2h.75M360.8 386.4h.75M370.6 379.2h.75M365.2 388.9h.75M358.1 391.5h.75M347.5 385.2h.75M337.8 382.6h.75M343.5 393.1h.75M345.9 389.1h.75M342.7 381.3h.75M355.8 376.3h.75M350.3 380.9h.75M342.3 385.7h.75M368.8 392.4h.75M384.4 368.0h.75M382.1 360.5h.75M379.7 364.3h.75M383.0 370.7h.75M370.3 356.3h.75M388.8 357.7h.75M387.0 383.5h.75M386.0 367.1h.75M377.6 366.2h.75M385.0 384.8h.75M384.8 363.9h.75M390.0 365.0h.75M387.8 366.8h.75M380.1 370.0h.75M377.5 360.7h.75M378.0 365.6h.75M375.9 370.0h.75M380.9 366.9h.75M376.1 366.5h.75M383.5 363.0h.75M376.8 366.7h.75M380.2 361.1h.75M384.5 367.9h.75M391.8 357.4h.75M369.5 366.8h.75M392.1 371.2h.75M378.6 360.1h.75M380.7 361.8h.75M372.8 365.6h.75M373.7 363.0h.75M373.3 363.7h.75M381.9 365.3h.75M380.3 358.1h.75M368.3 364.3h.75M378.3 369.2h.75M368.7 370.9h.75M377.6 357.8h.75M374.3 361.9h.75M388.0 362.0h.75M380.7 359.1h.75M368.8 360.1h.75M366.9 362.8h.75M376.8 376.3h.75M375.0 372.1h.75M382.9 370.2h.75M379.8 363.9h.75M381.8 372.5h.75M372.7 356.7h.75M374.2 355.4h.75M375.3 362.7h.75M373.0 363.6h.75M386.8 365.3h.75M386.2 363.9h.75M379.1 355.9h.75M387.1 366.9h.75M388.7 364.3h.75M374.0 378.5h.75M370.6 351.8h.75M383.9 358.0h.75M370.1 366.6h.75M372.7 376.5h.75M393.2 379.1h.75M374.5 370.9h.75M373.8 361.5h.75M376.7 363.6h.75M380.8 362.8h.75M388.2 355.8h.75M381.2 354.5h.75M382.0 372.8h.75M389.2 369.1h.75M379.6 360.7h.75M375.6 366.0h.75M373.1 356.3h.75M387.5 368.3h.75M381.7 362.2h.75M383.2 362.2h.75M381.4 365.3h.75M378.7 360.8h.75M383.3 359.6h.75M389.7 371.0h.75M376.8 368.0h.75M384.4 365.1h.75M370.5 366.8h.75M376.0 363.7h.75M393.1 365.2h.75M368.5 369.7h.75M385.9 359.6h.75M378.2 360.4h.75M380.5 372.6h.75M397.1 363.5h.75M379.6 374.2h.75M376.9 370.9h.75M374.0 385.9h.75M372.7 369.8h.75M390.1 371.5h.75M389.8 371.3h.75M378.8 369.8h.75M384.8 366.6h.75M384.9 363.3h.75M372.8 374.3h.75M380.0 375.8h.75M392.0 362.3h.75M390.3 367.8h.75M381.5 353.8h.75M375.6 363.5h.75M374.4 357.3h.75M366.6 366.0h.75M381.3 370.8h.75M368.4 354.8h.75M393.1 364.2h.75M377.9 371.8h.75M370.8 363.9h.75M384.4 368.0h.75M384.7 362.3h.75M389.2 355.6h.75M363.0 363.7h.75M379.5 364.9h.75M363.9 356.3h.75M376.0 370.7h.75M386.9 376.0h.75M369.9 361.6h.75M366.2 357.1h.75M369.7 364.1h.75M372.5 366.9h.75M388.4 363.2h.75M375.5 365.1h.75M377.2 363.5h.75M373.8 365.8h.75M374.6 367.9h.75M379.7 371.9h.75M382.4 368.4h.75M377.9 362.0h.75M382.6 359.5h.75M381.3 375.9h.75M373.7 369.4h.75M382.9 365.0h.75M386.0 362.1h.75M369.9 368.4h.75M381.9 367.0h.75M384.9 358.0h.75M372.6 376.8h.75M376.5 371.8h.75M381.5 352.6h.75M374.7 383.1h.75M379.9 370.0h.75M369.5 364.3h.75M370.9 363.2h.75M379.5 360.1h.75M368.9 368.9h.75M382.6 361.8h.75M373.7 370.8h.75M377.6 372.7h.75M383.2 363.3h.75M385.6 353.1h.75M372.0 365.4h.75M385.0 370.5h.75M382.3 359.7h.75M378.1 377.2h.75M383.5 372.0h.75M379.4 357.3h.75M376.0 373.5h.75M373.1 373.3h.75M382.1 353.8h.75M379.0 361.7h.75M377.2 374.6h.75M368.8 354.6h.75M376.2 365.8h.75M380.5 365.9h.75M372.5 363.6h.75M393.4 368.3h.75M384.4 367.4h.75M380.1 355.3h.75M382.0 381.3h.75M366.2 368.9h.75M369.6 369.4h.75M380.8 364.4h.75M370.0 361.4h.75M387.8 363.2h.75M378.2 368.5h.75M374.5 363.7h.75M368.0 378.2h.75M380.4 369.0h.75M374.5 358.3h.75M383.7 361.8h.75M378.9 358.3h.75M394.2 364.5h.75M380.8 370.9h.75M370.7 366.2h.75M369.5 359.6h.75M384.5 372.6h.75M381.7 359.0h.75M377.8 369.9h.75M375.7 362.9h.75M379.9 370.3h.75M374.2 355.1h.75M374.7 364.0h.75M377.0 366.8h.75M386.3 364.8h.75M381.3 360.8h.75M377.9 368.6h.75M370.4 371.4h.75M372.6 363.2h.75M382.4 368.7h.75M379.0 361.0h.75M391.8 364.3h.75M378.8 365.4h.75M379.4 363.3h.75M374.5 358.3h.75M370.6 369.5h.75M390.1 366.2h.75M379.5 363.5h.75M375.8 377.2h.75M379.8 368.4h.75M385.7 346.4h.75M383.1 364.7h.75M379.2 365.7h.75M383.1 368.9h.75M389.9 362.3h.75M381.5 370.9h.75M374.6 363.9h.75M382.8 366.5h.75M377.9 366.7h.75M397.1 362.2h.75M371.1 366.2h.75M366.0 360.9h.75M365.2 372.8h.75M383.9 363.6h.75M363.1 357.3h.75M371.3 384.0h.75M368.1 365.0h.75M384.3 368.7h.75M375.9 361.3h.75M385.4 363.8h.75M367.4 360.4h.75M374.3 374.3h.75M377.2 353.8h.75M375.9 370.4h.75M371.9 361.5h.75M369.6 366.4h.75M378.7 361.4h.75M379.4 368.3h.75M373.8 364.5h.75M382.8 363.1h.75M367.2 368.6h.75M377.9 367.6h.75M379.8 375.1h.75M368.6 377.7h.75M381.8 369.6h.75M372.2 365.2h.75M377.6 367.9h.75M366.9 364.6h.75M364.8 378.7h.75M373.7 360.7h.75M374.7 368.9h.75M385.0 369.1h.75M366.3 362.5h.75M380.0 365.8h.75M384.0 361.6h.75M376.2 351.9h.75M377.7 369.0h.75M379.6 359.6h.75M378.2 365.0h.75M372.0 361.5h.75M379.7 369.1h.75M391.9 358.8h.75M376.2 370.3h.75M375.1 370.1h.75M365.3 376.0h.75M385.1 365.6h.75M369.3 362.3h.75M372.9 374.0h.75M374.9 366.6h.75M382.5 362.6h.75M373.9 350.6h.75M384.2 374.6h.75M379.6 359.1h.75M381.8 363.2h.75M359.2 362.9h.75M364.4 362.9h.75M370.3 370.4h.75M367.5 365.9h.75M377.4 354.7h.75M378.8 360.5h.75M371.4 355.5h.75M378.4 360.9h.75M377.4 364.7h.75M388.5 363.3h.75M378.8 373.8h.75M375.1 372.7h.75M381.7 352.5h.75M388.7 363.9h.75M370.3 363.2h.75M379.6 366.4h.75M393.0 353.7h.75M380.7 361.3h.75M375.3 362.0h.75M373.0 375.3h.75M379.5 364.6h.75M380.5 354.9h.75M377.2 361.5h.75M371.7 373.7h.75M379.7 368.8h.75M374.3 365.5h.75M378.2 368.8h.75M379.3 367.9h.75M373.1 368.1h.75M381.3 368.1h.75M376.3 366.4h.75M377.9 366.9h.75M378.3 361.7h.75M374.8 365.7h.75M370.7 349.0h.75M377.7 362.4h.75M379.9 368.7h.75M380.7 363.2h.75M379.5 353.9h.75M382.2 359.1h.75M372.8 368.0h.75M373.9 358.9h.75M376.4 358.3h.75M383.7 357.7h.75M377.6 371.7h.75M380.2 379.4h.75M385.3 366.9h.75M369.9 368.8h.75M386.8 370.9h.75M382.3 368.9h.75M377.4 367.3h.75M381.0 365.0h.75M387.2 359.3h.75M387.0 361.3h.75M371.2 362.9h.75M372.5 363.2h.75M382.6 372.7h.75M383.7 347.8h.75M386.5 360.2h.75M381.0 373.0h.75M385.7 376.0h.75M378.7 358.7h.75M372.0 377.2h.75M375.9 366.0h.75M374.9 359.1h.75M388.7 373.6h.75M379.6 369.1h.75M373.3 364.1h.75M374.7 371.2h.75M387.0 361.3h.75M366.5 370.1h.75M392.5 358.6h.75M391.0 366.9h.75M380.3 354.9h.75M377.0 355.6h.75M382.8 379.5h.75M379.9 360.4h.75M374.1 364.1h.75M379.4 374.1h.75M379.1 365.6h.75M371.3 358.9h.75M379.9 364.2h.75M377.2 368.1h.75M389.4 359.0h.75M383.0 371.0h.75M374.8 356.6h.75M369.8 365.9h.75M379.1 367.2h.75M383.1 371.5h.75M387.5 375.6h.75M378.2 366.0h.75M372.2 357.4h.75M378.2 357.9h.75M387.6 360.1h.75M389.9 360.3h.75M377.4 371.8h.75M381.2 373.8h.75M372.6 369.7h.75M375.6 368.0h.75M369.0 359.4h.75M376.4 367.8h.75M371.2 359.0h.75M366.0 361.3h.75M389.6 361.0h.75M365.0 356.1h.75M370.7 362.0h.75M380.2 370.5h.75M374.9 368.9h.75M377.8 369.1h.75M385.6 370.0h.75M366.9 369.6h.75M376.0 350.2h.75M381.4 363.3h.75M369.8 352.6h.75M381.8 366.8h.75M382.9 365.5h.75M392.1 360.6h.75M378.9 365.5h.75M389.5 373.1h.75M374.5 372.6h.75M373.9 370.2h.75M367.5 353.4h.75M385.2 367.7h.75M375.7 353.9h.75M374.5 361.2h.75M383.5 365.8h.75M364.7 359.9h.75M370.5 360.4h.75M369.8 372.3h.75M386.3 363.6h.75M373.1 358.7h.75M378.1 379.2h.75M385.0 368.1h.75M386.6 361.1h.75M374.8 367.8h.75M370.4 372.8h.75M374.4 356.8h.75M384.9 363.1h.75M376.4 373.9h.75M388.4 360.7h.75M386.7 355.5h.75M388.4 366.3h.75M378.8 374.8h.75M381.4 353.6h.75M381.0 370.8h.75M385.7 375.2h.75M376.0 357.0h.75M367.6 361.8h.75M374.3 366.2h.75M390.1 361.8h.75M369.5 365.2h.75M379.9 369.6h.75M388.2 368.2h.75M380.6 360.3h.75M381.0 371.5h.75M376.0 375.7h.75M378.6 370.0h.75M367.0 372.2h.75M377.7 361.9h.75M380.0 366.6h.75M373.5 356.7h.75M381.4 369.6h.75M379.8 363.3h.75M377.0 352.9h.75M375.0 360.3h.75M377.5 350.3h.75M369.4 361.8h.75M365.5 356.1h.75M388.7 363.4h.75M374.9 365.3h.75M371.2 365.5h.75M375.0 358.2h.75M378.7 369.3h.75M378.5 356.5h.75M379.1 360.8h.75M375.2 366.1h.75M381.5 370.3h.75M375.8 380.9h.75M385.1 369.8h.75M390.7 372.5h.75M389.5 372.7h.75M375.9 370.6h.75M386.5 370.3h.75M387.8 369.2h.75M373.0 363.9h.75M372.0 356.7h.75M392.7 370.7h.75M387.4 356.8h.75M384.2 362.2h.75M383.6 370.0h.75M387.7 360.1h.75M387.5 371.9h.75M381.3 358.3h.75M370.1 354.4h.75M367.5 370.3h.75M367.4 360.1h.75M380.8 362.0h.75M382.0 373.0h.75M375.1 369.5h.75M386.1 365.0h.75M385.7 364.9h.75M380.0 371.1h.75M377.2 364.1h.75M382.6 372.0h.75M371.4 372.5h.75M380.2 366.7h.75M388.4 359.3h.75M372.6 358.1h.75M379.9 368.5h.75M368.5 368.3h.75M370.5 366.8h.75M393.5 372.6h.75M379.0 371.4h.75M384.3 350.2h.75M373.3 370.3h.75M382.8 358.6h.75M382.1 368.1h.75M378.2 365.4h.75M392.2 370.3h.75M385.1 354.4h.75M376.4 370.7h.75M380.6 364.2h.75M372.4 367.5h.75M378.1 355.1h.75M396.7 364.4h.75M366.3 356.0h.75M374.6 362.5h.75M373.0 364.7h.75M389.1 358.7h.75M386.6 370.6h.75M371.1 356.2h.75M384.1 371.8h.75M384.2 369.3h.75M374.3 369.7h.75M371.4 369.3h.75M385.1 370.1h.75M388.2 369.6h.75M386.4 366.7h.75M390.7 365.3h.75M389.3 361.2h.75M371.0 367.0h.75M378.6 362.4h.75M373.6 370.9h.75M382.1 371.4h.75M376.2 367.9h.75M372.1 361.3h.75M384.6 370.7h.75M379.9 373.3h.75M373.8 374.4h.75M378.1 364.7h.75M372.4 374.4h.75M372.3 374.5h.75M388.8 353.7h.75M378.6 358.2h.75M375.6 365.3h.75M377.0 369.9h.75M382.1 354.1h.75M370.4 356.9h.75M369.4 368.9h.75M377.8 365.9h.75M364.3 363.1h.75M363.4 365.2h.75M374.4 368.3h.75M382.5 370.8h.75M377.3 367.9h.75M371.8 379.8h.75M379.9 358.3h.75M379.3 372.6h.75M373.7 372.8h.75M376.6 373.9h.75M379.1 359.8h.75M380.1 373.3h.75M365.5 359.1h.75M381.5 358.3h.75M366.2 365.4h.75M375.3 363.5h.75M375.9 367.2h.75M372.6 355.1h.75M377.0 363.4h.75M377.4 365.7h.75M373.7 355.1h.75M381.9 374.8h.75M382.2 366.1h.75M382.9 363.0h.75M368.8 352.8h.75M379.3 357.9h.75M372.1 367.9h.75M385.4 374.4h.75M366.7 363.6h.75M373.4 365.6h.75M378.3 368.3h.75M376.9 357.5h.75M364.2 376.7h.75M374.2 369.6h.75M379.5 370.2h.75M378.6 372.8h.75M371.6 368.5h.75M381.8 359.8h.75M371.9 360.2h.75M387.4 362.2h.75M384.5 362.4h.75M380.2 369.2h.75M379.9 362.1h.75M375.1 377.2h.75M388.6 368.9h.75M374.6 367.9h.75M391.6 360.7h.75M379.4 368.4h.75M375.9 364.1h.75M384.4 363.1h.75M377.5 367.0h.75M369.5 365.6h.75M386.1 372.2h.75M365.6 364.0h.75M390.9 358.6h.75M372.5 367.2h.75M373.8 360.0h.75M373.4 366.4h.75M380.4 367.4h.75M368.2 354.3h.75M384.0 364.4h.75M379.3 367.6h.75M388.8 372.4h.75M374.7 370.1h.75M382.1 374.5h.75M384.8 380.0h.75M394.3 367.2h.75M372.1 368.8h.75M373.3 365.0h.75M385.8 361.1h.75M364.9 361.4h.75M371.4 354.5h.75M382.8 368.7h.75M380.5 372.6h.75M377.4 378.8h.75M380.3 371.2h.75M373.4 368.2h.75M376.4 357.7h.75M380.4 359.2h.75M385.3 354.4h.75M365.0 373.7h.75M383.0 363.0h.75M365.1 360.9h.75M380.4 378.0h.75M374.2 376.4h.75M366.4 375.9h.75M383.4 360.6h.75M388.2 365.7h.75M373.1 362.8h.75M384.8 361.6h.75M373.6 364.2h.75M377.5 357.0h.75M388.6 377.2h.75M377.8 368.5h.75M377.3 358.3h.75M381.0 358.6h.75M368.0 361.5h.75M381.4 362.2h.75M384.6 369.8h.75M385.6 374.5h.75M374.9 370.1h.75M383.3 367.7h.75M374.9 368.9h.75M379.9 370.1h.75M377.9 361.7h.75M368.4 364.7h.75M391.3 366.6h.75M378.7 360.1h.75M381.0 365.9h.75M379.9 363.6h.75M371.3 359.6h.75M374.3 359.1h.75M371.1 367.2h.75M378.6 362.0h.75M377.5 372.5h.75M370.2 369.5h.75M364.2 375.6h.75M382.0 379.3h.75M391.3 366.3h.75M383.1 368.2h.75M364.8 371.5h.75M384.1 370.7h.75M380.6 357.7h.75M373.9 340.9h.75M380.2 360.3h.75M374.5 372.3h.75M378.5 346.7h.75M385.5 355.7h.75M370.0 358.5h.75M387.2 356.6h.75M380.9 369.1h.75M363.4 374.3h.75M373.5 376.0h.75M375.5 374.8h.75M393.1 350.9h.75M370.0 361.2h.75M385.2 376.0h.75M379.4 368.3h.75M384.0 358.9h.75M374.1 366.0h.75M387.9 360.4h.75M383.1 360.1h.75M370.2 365.9h.75M376.5 388.6h.75M368.0 385.1h.75M383.4 380.2h.75M369.2 381.7h.75M375.6 395.3h.75M371.5 384.3h.75M371.7 388.5h.75M370.6 382.8h.75M377.8 396.5h.75M376.9 384.3h.75M386.9 388.3h.75M378.7 387.3h.75M379.0 380.9h.75M374.6 387.2h.75M372.9 389.0h.75M400.3 382.7h.75M372.2 380.8h.75M375.7 385.1h.75M383.9 387.5h.75M373.8 388.4h.75M393.0 394.1h.75M378.6 394.1h.75M372.8 379.2h.75M362.1 391.0h.75M378.1 384.8h.75M366.1 392.8h.75M370.9 381.3h.75M381.6 388.8h.75M363.7 396.6h.75M369.7 385.1h.75M368.1 386.1h.75M388.6 386.3h.75M381.5 384.2h.75M385.8 395.1h.75M377.0 377.1h.75M363.4 384.5h.75M382.2 388.8h.75M377.4 389.4h.75M371.8 387.6h.75M369.8 388.1h.75M381.1 397.1h.75M387.7 387.4h.75M370.7 385.7h.75M358.2 393.3h.75M382.9 390.3h.75M375.3 391.9h.75M383.6 395.2h.75M368.8 395.8h.75M364.8 395.1h.75M399.0 393.8h.75M375.2 397.0h.75M374.3 388.9h.75M370.5 387.3h.75M376.3 384.3h.75M385.7 390.1h.75M363.9 384.0h.75M374.3 386.3h.75M388.5 382.4h.75M375.0 387.4h.75M373.5 391.6h.75M380.3 385.1h.75M370.1 390.3h.75M374.5 385.2h.75M360.3 390.0h.75M370.8 391.0h.75M369.2 387.7h.75M372.7 378.0h.75M375.3 389.8h.75M374.1 388.6h.75M388.0 376.9h.75M365.9 384.3h.75M367.8 385.2h.75M363.0 386.1h.75M379.3 384.2h.75M380.9 392.8h.75M382.4 389.4h.75M357.3 387.3h.75M352.4 379.5h.75M380.7 372.5h.75M380.9 384.7h.75M381.0 395.7h.75M374.4 382.4h.75M380.6 380.9h.75M375.2 387.7h.75M384.8 378.4h.75M383.5 379.0h.75M379.9 390.0h.75M368.7 386.8h.75M379.6 386.3h.75M382.7 396.3h.75M373.9 387.7h.75M380.5 387.1h.75M391.1 393.8h.75M376.9 385.8h.75M355.9 381.9h.75M394.7 387.7h.75M386.2 377.1h.75M363.6 393.1h.75M385.3 380.0h.75M360.9 382.0h.75M376.0 375.6h.75M390.2 381.8h.75M378.2 392.6h.75M374.2 388.0h.75M385.3 387.0h.75M370.6 387.7h.75M354.7 385.1h.75M370.3 395.5h.75M379.0 382.5h.75M362.0 391.6h.75M378.6 392.5h.75M375.4 390.0h.75M374.9 382.4h.75M383.1 392.3h.75M372.1 395.6h.75M380.3 383.9h.75M367.2 397.1h.75M383.6 381.4h.75M399.7 394.4h.75M374.4 386.1h.75M382.8 396.6h.75M378.8 387.0h.75M362.0 380.6h.75M364.7 377.1h.75M379.0 385.6h.75M391.4 393.9h.75M383.6 386.5h.75M375.6 384.2h.75M370.4 387.8h.75M371.5 385.8h.75M373.2 388.5h.75M387.3 386.9h.75M371.6 391.3h.75M377.2 381.8h.75M372.6 387.4h.75M368.3 392.6h.75M378.3 384.9h.75M385.7 390.1h.75M375.5 389.5h.75M383.0 392.0h.75M368.7 389.9h.75M374.2 386.3h.75M372.1 394.2h.75M369.7 393.2h.75M385.4 386.0h.75M376.1 394.2h.75M392.0 387.4h.75M373.7 390.0h.75M381.8 385.9h.75M383.2 390.8h.75M375.7 382.7h.75M381.9 375.7h.75M366.3 378.0h.75M371.8 386.8h.75M372.0 384.2h.75M381.9 377.0h.75M361.3 389.8h.75M386.2 390.2h.75M364.2 377.6h.75M380.4 389.5h.75M375.9 380.4h.75M352.2 392.5h.75M391.4 392.8h.75M380.1 390.7h.75M373.4 386.5h.75M375.7 383.3h.75M378.5 380.9h.75M388.9 383.2h.75M383.1 391.3h.75M384.0 390.5h.75M372.8 394.6h.75M385.0 381.3h.75M375.8 386.2h.75M365.7 388.5h.75M372.1 376.7h.75M392.9 388.5h.75M373.9 389.2h.75M366.9 383.4h.75M390.7 385.6h.75M359.6 389.9h.75M383.4 383.8h.75M369.6 395.3h.75M383.4 381.0h.75M371.0 385.8h.75M373.4 380.6h.75M373.3 382.0h.75M381.7 389.0h.75M370.6 386.3h.75M370.8 393.0h.75M356.6 367.1h.75M351.2 358.4h.75M339.3 371.2h.75M366.1 362.0h.75M350.6 356.0h.75M359.7 362.6h.75M345.7 372.4h.75M356.8 364.2h.75M351.5 359.8h.75M344.8 357.7h.75M347.3 369.0h.75M343.4 374.0h.75M362.1 356.7h.75M345.1 347.9h.75M359.9 367.7h.75M366.9 364.3h.75M355.8 359.3h.75M340.9 367.2h.75M349.1 361.5h.75M345.1 366.0h.75M336.8 351.8h.75M361.9 366.7h.75M343.4 363.9h.75M355.5 370.2h.75M361.9 370.1h.75M347.0 377.6h.75M352.3 367.5h.75M357.5 373.9h.75M361.8 348.4h.75M339.2 360.9h.75M345.1 369.8h.75M365.9 372.6h.75M342.8 366.2h.75M360.6 367.8h.75M360.6 383.7h.75M359.5 365.4h.75M357.3 364.5h.75M348.6 362.0h.75M343.9 353.9h.75M352.8 354.7h.75M346.6 356.5h.75M341.8 340.1h.75M357.9 372.9h.75M354.0 356.2h.75M362.3 364.9h.75M339.7 361.3h.75M352.6 354.8h.75M356.9 350.2h.75M352.2 367.8h.75M359.8 355.0h.75M341.7 360.3h.75M352.0 360.3h.75M349.2 352.7h.75M360.4 368.0h.75M358.4 360.2h.75M346.6 357.7h.75M353.5 350.7h.75M355.2 365.4h.75M346.4 369.1h.75M358.3 343.7h.75M348.3 360.9h.75M360.6 366.1h.75M350.7 373.5h.75M352.7 364.4h.75M356.3 371.0h.75M336.7 369.3h.75M355.0 373.3h.75M353.8 361.2h.75M345.9 362.3h.75M346.8 366.1h.75M352.4 355.8h.75M358.1 361.4h.75M348.4 373.0h.75M355.9 365.5h.75M345.3 372.2h.75M357.2 352.4h.75M349.4 372.0h.75M360.6 361.1h.75M353.9 363.5h.75M364.9 357.5h.75M353.0 369.7h.75M354.2 370.4h.75M352.3 360.0h.75M345.8 361.3h.75M340.3 352.4h.75M352.8 354.6h.75M353.2 361.2h.75M350.6 366.3h.75M347.8 353.6h.75M349.5 360.4h.75M363.9 370.1h.75M340.0 347.6h.75M340.9 366.4h.75M349.1 370.9h.75M354.0 354.5h.75M348.2 363.5h.75M362.3 359.7h.75M346.7 362.9h.75M344.9 366.0h.75M355.3 369.0h.75M344.2 371.1h.75M377.4 373.2h.75M352.7 361.0h.75M337.9 365.7h.75M370.3 366.3h.75M355.3 361.4h.75M341.5 380.8h.75M348.8 374.8h.75M352.3 361.3h.75M344.0 363.0h.75M353.6 359.1h.75M351.0 360.4h.75M344.0 356.3h.75M375.7 351.6h.75M358.1 350.9h.75M343.4 369.5h.75M338.8 368.0h.75M365.1 360.2h.75M358.9 370.1h.75M348.1 369.3h.75M347.8 351.8h.75M339.8 362.4h.75M352.5 365.4h.75M341.8 365.8h.75M350.8 354.0h.75M340.4 379.3h.75M357.2 359.0h.75M357.0 356.2h.75M367.2 366.5h.75M349.6 362.9h.75M341.2 369.8h.75M353.3 373.7h.75M353.8 373.8h.75M366.1 362.9h.75M354.5 369.6h.75M356.1 361.3h.75M373.1 371.6h.75M356.5 352.4h.75M342.1 360.6h.75M341.8 350.4h.75M357.5 367.7h.75M346.7 361.9h.75M362.0 369.2h.75M368.4 360.5h.75M348.7 368.6h.75M368.7 360.9h.75M349.0 360.1h.75M362.2 371.7h.75M343.1 370.7h.75M359.0 372.4h.75M347.7 361.7h.75M356.7 366.4h.75M343.2 368.2h.75M357.5 360.3h.75M355.8 371.2h.75M352.2 362.8h.75M342.7 361.7h.75M345.8 354.2h.75M360.7 365.8h.75M355.0 363.7h.75M364.4 348.5h.75M366.1 358.5h.75M388.9 365.0h.75M389.2 370.8h.75M404.0 364.8h.75M404.3 367.6h.75M397.0 384.8h.75M394.0 362.0h.75M397.7 375.7h.75M393.7 368.4h.75M402.7 363.8h.75M395.8 365.0h.75M402.6 368.3h.75M400.3 371.8h.75M396.4 364.4h.75M408.4 367.4h.75M395.9 360.7h.75M397.7 364.7h.75M387.4 381.2h.75M403.9 374.7h.75M398.8 377.3h.75M397.0 374.0h.75M388.2 368.7h.75M395.6 349.2h.75M386.2 364.4h.75M415.2 357.9h.75M380.2 378.3h.75M388.1 376.5h.75M396.6 386.9h.75M396.9 379.8h.75M395.5 372.6h.75M397.2 371.6h.75M409.8 386.3h.75M397.3 370.1h.75M398.7 381.1h.75M403.5 372.8h.75M382.8 392.9h.75M410.2 376.5h.75M400.0 384.3h.75M412.0 373.1h.75M399.9 370.5h.75M414.6 369.0h.75" stroke="#8a8a8a" stroke-width="0.75" fill="none" opacity="0.55"/>
<path d="M335.5 314.5H441.2V398" fill="none" stroke="#888" stroke-width="0.7"/>
<path d="M335.5 314.5V398H441.2" fill="none" stroke="#666" stroke-width="0.75"/>
<path d="M365.8 314.5V398M335.5 375.4H441.2" fill="none" stroke="#777" stroke-width="0.7"/>
<path d="M335.5 398v2.4M335.5 398.0h-2M343.5 398v1.2M335.5 391.7h-1.1M348.1 398v1.2M335.5 388.0h-1.1M351.4 398v1.2M335.5 385.4h-1.1M354.0 398v1.2M335.5 383.4h-1.1M356.1 398v1.2M335.5 381.8h-1.1M357.8 398v1.2M335.5 380.4h-1.1M359.4 398v1.2M335.5 379.1h-1.1M360.7 398v1.2M335.5 378.1h-1.1M361.9 398v2.4M335.5 377.1h-2M369.9 398v1.2M335.5 370.8h-1.1M374.5 398v1.2M335.5 367.2h-1.1M377.8 398v1.2M335.5 364.6h-1.1M380.4 398v1.2M335.5 362.5h-1.1M382.5 398v1.2M335.5 360.9h-1.1M384.3 398v1.2M335.5 359.5h-1.1M385.8 398v1.2M335.5 358.3h-1.1M387.1 398v1.2M335.5 357.2h-1.1M388.4 398v2.4M335.5 356.2h-2M396.3 398v1.2M335.5 350.0h-1.1M401.0 398v1.2M335.5 346.3h-1.1M404.3 398v1.2M335.5 343.7h-1.1M406.8 398v1.2M335.5 341.7h-1.1M408.9 398v1.2M335.5 340.0h-1.1M410.7 398v1.2M335.5 338.6h-1.1M412.2 398v1.2M335.5 337.4h-1.1M413.6 398v1.2M335.5 336.3h-1.1M414.8 398v2.4M335.5 335.4h-2M422.7 398v1.2M335.5 329.1h-1.1M427.4 398v1.2M335.5 325.4h-1.1M430.7 398v1.2M335.5 322.8h-1.1M433.2 398v1.2M335.5 320.8h-1.1M435.3 398v1.2M335.5 319.1h-1.1M437.1 398v1.2M335.5 317.7h-1.1M438.6 398v1.2M335.5 316.5h-1.1M440.0 398v1.2M335.5 315.5h-1.1M441.2 398v2.4M335.5 314.5h-2" stroke="#555" stroke-width="0.45" fill="none"/>
<g class="an" font-size="5" fill="#000" stroke="#000" stroke-width="0.12">
<text x="332.7" y="406.6"><tspan letter-spacing="-1.1">10</tspan><tspan dx="1.6" dy="-2.3">0</tspan></text>
<text x="359.1" y="406.6"><tspan letter-spacing="-1.1">10</tspan><tspan dx="1.6" dy="-2.3">1</tspan></text>
<text x="385.6" y="406.6"><tspan letter-spacing="-1.1">10</tspan><tspan dx="1.6" dy="-2.3">2</tspan></text>
<text x="412.0" y="406.6"><tspan letter-spacing="-1.1">10</tspan><tspan dx="1.6" dy="-2.3">3</tspan></text>
<text x="438.4" y="406.6"><tspan letter-spacing="-1.1">10</tspan><tspan dx="1.6" dy="-2.3">4</tspan></text>
<text x="322.7" y="373.4"><tspan>10</tspan><tspan dx="0.5" dy="-4.5">1</tspan></text>
<text x="322.7" y="353.6"><tspan>10</tspan><tspan dx="0.5" dy="-4.5">2</tspan></text>
<text x="322.7" y="333.9"><tspan>10</tspan><tspan dx="0.5" dy="-4.5">3</tspan></text>
<text x="322.7" y="314.1"><tspan>10</tspan><tspan dx="0.5" dy="-4.5">4</tspan></text>
</g>
<text class="ab" x="324.8" y="305.2" font-size="9" fill="#000">CD25- PBMC: Tumor cells= 1:9</text>
<text class="ab" x="440.3" y="329.6" font-size="9" fill="#000" text-anchor="end">28%</text>
<text class="ab" x="442" y="95.9" font-size="9" fill="#000">backgate</text>
<path d="M397 109H476" fill="none" stroke="#606060" stroke-width="0.95"/><path d="M461.4 104.8L476.5 109L461.4 113.3" fill="none" stroke="#555" stroke-width="0.75"/>
<text class="ab" x="444.2" y="344.1" font-size="9" fill="#000">backgate</text>
<path d="M401 358.5H478.5" fill="none" stroke="#606060" stroke-width="0.95"/><path d="M463.5 354.4L479 358.5L463.5 362.7" fill="none" stroke="#555" stroke-width="0.75"/>
<rect x="462.6" y="82.6" width="50.60000000000002" height="50.30000000000001" fill="none" stroke="#a6a6a6" stroke-width="0.6"/>
<path d="M462.6 132.9H513.2" stroke="#666" stroke-width="0.7"/>
<path d="M478.0 132.9L478.0 131.5L478.5 130.9L479.0 131.5L479.5 130.5L480.0 128.9L480.5 128.2L481.0 130.7L481.5 130.6L482.0 131.1L482.5 130.6L483.0 130.7L483.5 127.7L484.0 129.3L484.5 130.4L485.0 131.9L485.5 131.3L486.0 131.4L486.5 131.5L487.0 131.2L487.5 127.7L488.0 129.3L488.5 127.6L489.0 131.2L489.5 131.6L490.0 129.2L490.5 130.5L491.0 131.3L491.5 130.1L492.0 129.1L492.5 131.3L493.0 131.8L493.5 130.4L494.0 131.7L494.5 131.6L495.0 130.9L495.5 130.5L496.0 130.6L496.5 130.4L497.0 131.9L497.5 130.9L498.0 131.3L498.5 130.9L499.0 131.3L499.5 131.2L500.0 131.9L500.5 131.2L501.0 131.6L501.5 130.8L502.0 129.3L502.5 131.5L503.0 128.5L503.5 132.6L504.0 132.3L504.5 132.3L505.0 132.2L505.5 131.9L506.0 132.0L506.5 127.4L507.0 130.5L507.5 130.4L508.0 131.0L508.5 130.6L509.0 130.5L509.5 131.4L510.0 128.1L510.5 131.4L511.0 130.5L511.5 130.9L512.0 131.2L512.5 130.6L512.5 132.9Z" fill="#1a1a1a"/>
<text class="an" x="487.90000000000003" y="81.8" font-size="2.6" fill="#888" text-anchor="middle">patient 12</text>
<g class="an" font-size="2.6" fill="#777" text-anchor="middle">
<text x="462.6" y="136.5">10<tspan dy="-1" font-size="2">0</tspan></text>
<text x="475.2" y="136.5">10<tspan dy="-1" font-size="2">1</tspan></text>
<text x="487.9" y="136.5">10<tspan dy="-1" font-size="2">2</tspan></text>
<text x="500.6" y="136.5">10<tspan dy="-1" font-size="2">3</tspan></text>
<text x="513.2" y="136.5">10<tspan dy="-1" font-size="2">4</tspan></text>
</g>
<text class="sb" x="484.2" y="148.2" font-size="9" fill="#000" text-anchor="middle">CFSE</text>
<rect x="468.5" y="333.1" width="49.89999999999998" height="50.099999999999966" fill="none" stroke="#a6a6a6" stroke-width="0.6"/>
<path d="M468.5 383.2H518.4" stroke="#666" stroke-width="0.7"/>
<path d="M483.5 383.2L483.5 382.6L483.9 381.7L484.4 381.2L484.8 379.0L485.3 378.1L485.7 376.4L486.2 374.9L486.6 375.3L487.1 370.7L487.5 370.5L488.0 370.7L488.4 371.2L488.9 369.1L489.3 369.3L489.8 365.6L490.2 365.8L490.7 365.7L491.1 352.7L491.6 364.6L492.0 364.7L492.5 367.3L492.9 366.6L493.4 368.8L493.8 369.0L494.3 366.4L494.7 368.9L495.2 367.6L495.6 371.7L496.1 369.9L496.5 373.1L497.0 374.0L497.4 376.4L497.9 378.4L498.3 377.7L498.8 380.6L499.2 380.2L499.7 379.8L500.1 381.3L500.6 381.3L501.0 381.1L501.5 381.2L501.9 381.0L502.4 381.0L502.8 381.0L503.3 380.5L503.7 380.1L504.2 377.9L504.6 377.2L505.1 377.7L505.5 377.9L506.0 377.4L506.4 375.8L506.9 373.4L507.3 376.4L507.8 373.0L508.2 371.5L508.7 372.1L509.1 373.9L509.6 368.0L510.0 371.5L510.5 366.8L510.9 363.7L511.4 363.7L511.8 370.0L512.3 372.1L512.7 372.7L513.2 370.1L513.6 370.9L514.1 373.3L514.5 373.7L515.0 374.5L515.4 376.1L515.9 375.9L516.3 377.3L516.8 376.2L517.2 376.8L517.7 376.5L518.1 378.9L518.1 383.2Z" fill="#1a1a1a"/>
<text class="an" x="493.45" y="332.3" font-size="2.6" fill="#888" text-anchor="middle">patient 12</text>
<g class="an" font-size="2.6" fill="#777" text-anchor="middle">
<text x="468.5" y="386.8">10<tspan dy="-1" font-size="2">0</tspan></text>
<text x="481.0" y="386.8">10<tspan dy="-1" font-size="2">1</tspan></text>
<text x="493.4" y="386.8">10<tspan dy="-1" font-size="2">2</tspan></text>
<text x="505.9" y="386.8">10<tspan dy="-1" font-size="2">3</tspan></text>
<text x="518.4" y="386.8">10<tspan dy="-1" font-size="2">4</tspan></text>
</g>
<text class="sb" x="491.5" y="398.2" font-size="9" fill="#000" text-anchor="middle">CFSE</text>
<path d="M0.5 596V463.3H491.9V596" fill="none" stroke="#c0c0c0" stroke-width="1"/>
<path d="M0.45 463.3V597" stroke="#8a8a8a" stroke-width="0.9" fill="none"/>
<path d="M0 596.3H492.4" stroke="#858585" stroke-width="1.3" fill="none"/>
<g class="ab" font-size="9" fill="#000">
<text x="65.8" y="477.7">Splenic marginal zone lymphoma, CD304 and CD25 depleted splenic cells (patient 4)</text>
<text x="65.8" y="499.9">Diffuse large B-cell lymphoma, CD304 and CD25 depleted lymph node cell suspension (patient 11)</text>
<text x="65.8" y="522.0">Mantle cell lymphoma, CD20+ splenic tumor cells (patient 12)</text>
<text x="65.8" y="544.2">Splenic marginal zone lymphoma, CD304 and CD25 depleted splenic cells (patient 18)</text>
<text x="65.8" y="566.2">Follicular NHL, CD304 and CD25 depleted lymph node cell suspension (patient 5)</text>
<text x="65.8" y="588.2">Follicular NHL, CD20+ tumor cells from lymph node (patient 7)</text>
</g>
<path d="M6.4 474.5H54.7" stroke="#bdbdbd" stroke-width="0.8" fill="none"/>
<path d="M28.9 474.5L30.4 473.0L31.9 474.5L30.4 476.0Z" fill="#111"/>
<path d="M6.4 496.7H54.7" stroke="#e4e4e4" stroke-width="0.8" fill="none" stroke-dasharray="1 1.5"/>
<rect x="29.1" y="495.3" width="2.8" height="2.8" fill="#cfcfcf"/>
<path d="M6.4 518.8H54.7" stroke="#bcbcbc" stroke-width="0.8" fill="none" stroke-dasharray="6 1.6"/>
<path d="M28.9 517.5999999999999H31.7L30.3 520.3Z" fill="#111"/>
<path d="M6.4 541H54.7" stroke="#cecece" stroke-width="0.8" fill="none" stroke-dasharray="8 5"/>
<path d="M29.0 542.2H32.0L30.5 539.5Z" fill="#c6c6c6"/>
<path d="M6.4 563H54.7" stroke="#c4c4c4" stroke-width="0.8" fill="none" stroke-dasharray="11 5 5 5"/>
<circle cx="30.5" cy="563" r="1.5" fill="#111"/>
<path d="M6.4 585H54.7" stroke="#d2d2d2" stroke-width="0.8" fill="none" stroke-dasharray="8 4"/>
<rect x="29.1" y="583.6" width="2.8" height="2.8" fill="#c0c0c0"/>
</svg></body></html>
